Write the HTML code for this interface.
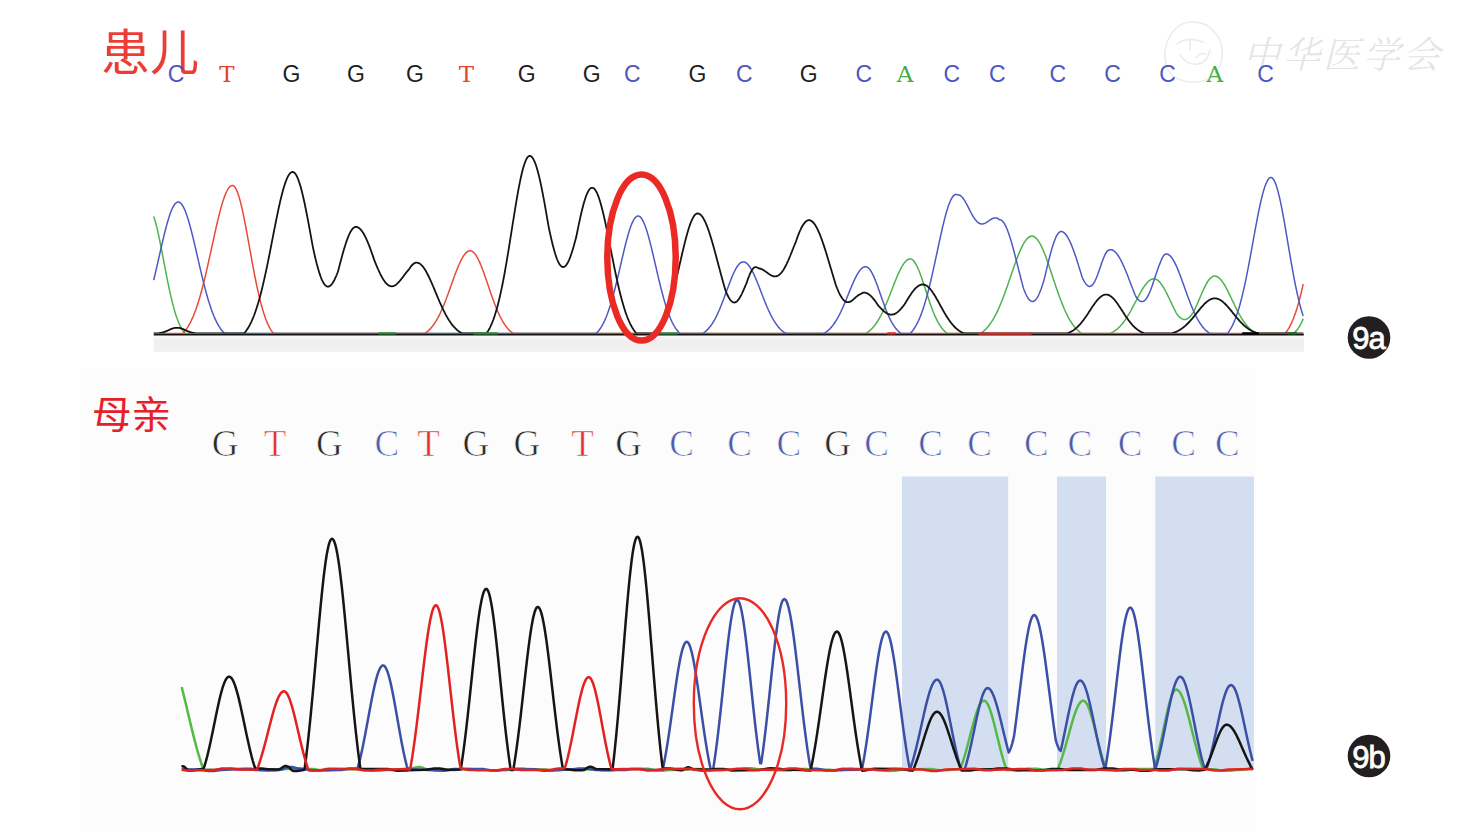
<!DOCTYPE html>
<html><head><meta charset="utf-8"><style>
html,body{margin:0;padding:0;background:#fff;}
body{width:1482px;height:832px;overflow:hidden;position:relative;}
svg{position:absolute;left:0;top:0;display:block;}
.tl{font-family:"Liberation Sans",sans-serif;font-size:23px;text-anchor:middle;}
.ts{font-family:"DejaVu Serif",serif;font-size:23px;text-anchor:middle;}
.bl{font-family:"Liberation Serif",serif;font-size:37px;text-anchor:middle;stroke:#fcfcfc;stroke-width:0.7px;}
.cjk{font-family:"Liberation Sans","Noto Sans CJK SC",sans-serif;}
.wm{font-family:"Liberation Serif","Noto Serif CJK SC",serif;}
.badge{font-family:"Liberation Sans",sans-serif;font-size:31px;fill:#fff;stroke:#fff;stroke-width:0.8px;text-anchor:middle;letter-spacing:-1px;}
</style></head><body>
<svg width="1482" height="832" viewBox="0 0 1482 832">
<defs>
<linearGradient id="band" x1="0" y1="0" x2="0" y2="1">
<stop offset="0" stop-color="#f7f7f7"/><stop offset="0.3" stop-color="#efefef"/><stop offset="1" stop-color="#f2f2f2"/>
</linearGradient>
<clipPath id="tclip"><rect x="0" y="0" width="1482" height="333.3"/></clipPath>
</defs>
<rect x="0" y="0" width="1482" height="832" fill="#ffffff"/>
<!-- lower panel background -->
<rect x="80.5" y="368" width="1175" height="464" fill="#fcfcfc"/>
<!-- top gray band -->
<rect x="153.7" y="336.5" width="1150.3" height="15.5" fill="url(#band)"/>

<!-- watermark -->
<g fill="none" stroke="#ececec" stroke-width="1.6" stroke-linecap="round">
<path d="M1170 36 q8 -14 22 -14 q16 0 24 12 q8 10 6 24 q-2 16 -16 22 q-14 5 -28 -1 q-12 -6 -13 -20 q-1 -13 5 -23z"/>
<path d="M1177 44 q10 -8 26 -2 M1180 54 q6 12 18 10 q10 -2 12 -14 M1190 40 v10 M1196 58 q4 -6 10 -4"/>
</g>
<text x="1246" y="68" font-family="'Liberation Serif','Noto Serif CJK SC',serif" font-weight="300" font-size="37" fill="#e4e4e4" letter-spacing="3" transform="skewX(-14) translate(14,0)">中华医学会</text>

<!-- top labels -->
<text x="101" y="70" class="cjk" font-size="49" fill="#eb3d35">患儿</text>
<text x="176.0" y="81.5" class="tl" fill="#4d57c2">C</text>
<text x="227.0" y="81.5" class="ts" fill="#e2452a">T</text>
<text x="291.5" y="81.5" class="tl" fill="#1e1e1e">G</text>
<text x="356.0" y="81.5" class="tl" fill="#1e1e1e">G</text>
<text x="415.0" y="81.5" class="tl" fill="#1e1e1e">G</text>
<text x="466.3" y="81.5" class="ts" fill="#e2452a">T</text>
<text x="526.6" y="81.5" class="tl" fill="#1e1e1e">G</text>
<text x="591.6" y="81.5" class="tl" fill="#1e1e1e">G</text>
<text x="632.3" y="81.5" class="tl" fill="#4d57c2">C</text>
<text x="697.5" y="81.5" class="tl" fill="#1e1e1e">G</text>
<text x="744.3" y="81.5" class="tl" fill="#4d57c2">C</text>
<text x="808.7" y="81.5" class="tl" fill="#1e1e1e">G</text>
<text x="863.8" y="81.5" class="tl" fill="#4d57c2">C</text>
<text x="905.0" y="81.5" class="ts" fill="#3fae45">A</text>
<text x="951.9" y="81.5" class="tl" fill="#4d57c2">C</text>
<text x="997.2" y="81.5" class="tl" fill="#4d57c2">C</text>
<text x="1057.8" y="81.5" class="tl" fill="#4d57c2">C</text>
<text x="1112.5" y="81.5" class="tl" fill="#4d57c2">C</text>
<text x="1167.5" y="81.5" class="tl" fill="#4d57c2">C</text>
<text x="1214.7" y="81.5" class="ts" fill="#3fae45">A</text>
<text x="1265.6" y="81.5" class="tl" fill="#4d57c2">C</text>

<!-- top traces -->
<g fill="none" stroke-width="1.5" stroke-linejoin="round" clip-path="url(#tclip)">
<path d="M153.7,216.6 154.2,218.0 154.7,219.6 155.2,221.2 155.7,223.0 156.2,224.9 156.7,226.9 157.2,228.9 157.7,231.1 158.2,233.3 158.7,235.6 159.2,237.9 159.7,240.4 160.2,242.8 160.7,245.3 161.2,247.9 161.7,250.4 162.2,253.0 162.7,255.7 163.2,258.3 163.7,260.9 164.2,263.6 164.7,266.2 165.2,268.8 165.7,271.4 166.2,274.0 166.7,276.6 167.2,279.1 167.7,281.6 168.2,284.0 168.7,286.4 169.2,288.8 169.7,291.1 170.2,293.4 170.7,295.6 171.2,297.7 171.7,299.8 172.2,301.9 172.7,303.9 173.2,305.8 173.7,307.6 174.2,309.4 174.7,311.1 175.2,312.8 175.7,314.4 176.2,315.9 176.7,317.4 177.2,318.8 177.7,320.1 178.2,321.4 178.7,322.6 179.2,323.8 179.7,324.9 180.2,326.0 180.7,326.9 181.2,327.9 181.7,328.8 182.2,329.6 182.7,330.4 183.2,331.2 183.7,331.9 184.2,332.5 184.7,333.1 185.2,333.5 865.7,333.5 866.2,333.2 866.7,332.9 867.2,332.5 867.7,332.2 868.2,331.8 868.7,331.5 869.2,331.1 869.7,330.6 870.2,330.2 870.7,329.8 871.2,329.3 871.7,328.8 872.2,328.3 872.7,327.7 873.2,327.2 873.7,326.6 874.2,325.9 874.7,325.3 875.2,324.7 875.7,324.0 876.2,323.3 876.7,322.5 877.2,321.8 877.7,321.0 878.2,320.2 878.7,319.3 879.2,318.5 879.7,317.6 880.2,316.7 880.7,315.7 881.2,314.8 881.7,313.8 882.2,312.8 882.7,311.7 883.2,310.7 883.7,309.6 884.2,308.5 884.7,307.3 885.2,306.2 885.7,305.0 886.2,303.9 886.7,302.7 887.2,301.4 887.7,300.2 888.2,299.0 888.7,297.7 889.2,296.5 889.7,295.2 890.2,293.9 890.7,292.6 891.2,291.3 891.7,290.0 892.2,288.8 892.7,287.5 893.2,286.2 893.7,284.9 894.2,283.6 894.7,282.4 895.2,281.1 895.7,279.9 896.2,278.7 896.7,277.5 897.2,276.3 897.7,275.1 898.2,274.0 898.7,272.9 899.2,271.8 899.7,270.8 900.2,269.8 900.7,268.8 901.2,267.8 901.7,266.9 902.2,266.1 902.7,265.3 903.2,264.5 903.7,263.7 904.2,263.1 904.7,262.4 905.2,261.8 905.7,261.3 906.2,260.8 906.7,260.4 907.2,260.0 907.7,259.7 908.2,259.5 908.7,259.3 909.2,259.1 909.7,259.0 910.7,259.0 911.2,259.1 911.7,259.3 912.2,259.6 912.7,260.0 913.2,260.4 913.7,260.9 914.2,261.5 914.7,262.2 915.2,263.0 915.7,263.8 916.2,264.7 916.7,265.6 917.2,266.6 917.7,267.7 918.2,268.8 918.7,270.0 919.2,271.2 919.7,272.5 920.2,273.8 920.7,275.2 921.2,276.6 921.7,278.0 922.2,279.5 922.7,280.9 923.2,282.4 923.7,284.0 924.2,285.5 924.7,287.0 925.2,288.6 925.7,290.1 926.2,291.7 926.7,293.2 927.2,294.8 927.7,296.3 928.2,297.8 928.7,299.3 929.2,300.8 929.7,302.3 930.2,303.7 930.7,305.1 931.2,306.5 931.7,307.9 932.2,309.2 932.7,310.5 933.2,311.8 933.7,313.0 934.2,314.2 934.7,315.4 935.2,316.6 935.7,317.7 936.2,318.7 936.7,319.7 937.2,320.7 937.7,321.7 938.2,322.6 938.7,323.5 939.2,324.3 939.7,325.1 940.2,325.9 940.7,326.6 941.2,327.3 941.7,328.0 942.2,328.6 942.7,329.2 943.2,329.8 943.7,330.3 944.2,330.9 944.7,331.3 945.2,331.8 945.7,332.2 946.2,332.6 946.7,333.0 947.2,333.4 947.7,333.5 980.2,333.5 980.7,333.3 981.2,333.0 981.7,332.6 982.2,332.3 982.7,331.9 983.2,331.5 983.7,331.1 984.2,330.6 984.7,330.2 985.2,329.7 985.7,329.2 986.2,328.7 986.7,328.2 987.2,327.6 987.7,327.0 988.2,326.4 988.7,325.8 989.2,325.2 989.7,324.5 990.2,323.8 990.7,323.1 991.2,322.4 991.7,321.6 992.2,320.8 992.7,320.0 993.2,319.2 993.7,318.3 994.2,317.4 994.7,316.5 995.2,315.6 995.7,314.6 996.2,313.7 996.7,312.6 997.2,311.6 997.7,310.6 998.2,309.5 998.7,308.4 999.2,307.2 999.7,306.1 1000.2,304.9 1000.7,303.7 1001.2,302.5 1001.7,301.2 1002.2,300.0 1002.7,298.7 1003.2,297.4 1003.7,296.1 1004.2,294.7 1004.7,293.4 1005.2,292.0 1005.7,290.6 1006.2,289.2 1006.7,287.8 1007.2,286.4 1007.7,285.0 1008.2,283.5 1008.7,282.1 1009.2,280.6 1009.7,279.2 1010.2,277.7 1010.7,276.3 1011.2,274.8 1011.7,273.3 1012.2,271.9 1012.7,270.4 1013.2,269.0 1013.7,267.6 1014.2,266.1 1014.7,264.7 1015.2,263.3 1015.7,262.0 1016.2,260.6 1016.7,259.2 1017.2,257.9 1017.7,256.6 1018.2,255.4 1018.7,254.1 1019.2,252.9 1019.7,251.7 1020.2,250.6 1020.7,249.4 1021.2,248.3 1021.7,247.3 1022.2,246.3 1022.7,245.3 1023.2,244.4 1023.7,243.5 1024.2,242.7 1024.7,241.9 1025.2,241.1 1025.7,240.4 1026.2,239.8 1026.7,239.2 1027.2,238.6 1027.7,238.1 1028.2,237.7 1028.7,237.3 1029.2,237.0 1029.7,236.7 1030.2,236.5 1030.7,236.3 1031.2,236.2 1031.7,236.1 1032.2,236.1 1032.7,236.2 1033.2,236.3 1033.7,236.5 1034.2,236.7 1034.7,237.0 1035.2,237.4 1035.7,237.8 1036.2,238.2 1036.7,238.8 1037.2,239.4 1037.7,240.0 1038.2,240.7 1038.7,241.4 1039.2,242.2 1039.7,243.1 1040.2,244.0 1040.7,244.9 1041.2,245.9 1041.7,246.9 1042.2,248.0 1042.7,249.1 1043.2,250.3 1043.7,251.5 1044.2,252.7 1044.7,254.0 1045.2,255.2 1045.7,256.6 1046.2,257.9 1046.7,259.3 1047.2,260.7 1047.7,262.1 1048.2,263.5 1048.7,265.0 1049.2,266.4 1049.7,267.9 1050.2,269.4 1050.7,270.9 1051.2,272.4 1051.7,273.9 1052.2,275.4 1052.7,276.9 1053.2,278.4 1053.7,279.9 1054.2,281.5 1054.7,283.0 1055.2,284.4 1055.7,285.9 1056.2,287.4 1056.7,288.9 1057.2,290.3 1057.7,291.8 1058.2,293.2 1058.7,294.6 1059.2,296.0 1059.7,297.4 1060.2,298.7 1060.7,300.0 1061.2,301.3 1061.7,302.6 1062.2,303.9 1062.7,305.1 1063.2,306.3 1063.7,307.5 1064.2,308.7 1064.7,309.8 1065.2,311.0 1065.7,312.0 1066.2,313.1 1066.7,314.1 1067.2,315.1 1067.7,316.1 1068.2,317.1 1068.7,318.0 1069.2,318.9 1069.7,319.8 1070.2,320.6 1070.7,321.4 1071.2,322.2 1071.7,323.0 1072.2,323.7 1072.7,324.4 1073.2,325.1 1073.7,325.8 1074.2,326.4 1074.7,327.1 1075.2,327.7 1075.7,328.2 1076.2,328.8 1076.7,329.3 1077.2,329.8 1077.7,330.3 1078.2,330.8 1078.7,331.2 1079.2,331.6 1079.7,332.1 1080.2,332.4 1080.7,332.8 1081.2,333.2 1081.7,333.5 1109.7,333.5 1110.2,333.4 1110.7,333.2 1111.2,332.9 1111.7,332.7 1112.2,332.4 1112.7,332.1 1113.2,331.9 1113.7,331.5 1114.2,331.2 1114.7,330.9 1115.2,330.6 1115.7,330.2 1116.2,329.8 1116.7,329.4 1117.2,329.0 1117.7,328.6 1118.2,328.1 1118.7,327.7 1119.2,327.2 1119.7,326.7 1120.2,326.1 1120.7,325.6 1121.2,325.0 1121.7,324.5 1122.2,323.9 1122.7,323.2 1123.2,322.6 1123.7,321.9 1124.2,321.3 1124.7,320.6 1125.2,319.9 1125.7,319.1 1126.2,318.4 1126.7,317.6 1127.2,316.8 1127.7,316.0 1128.2,315.2 1128.7,314.4 1129.2,313.5 1129.7,312.6 1130.2,311.8 1130.7,310.9 1131.2,310.0 1131.7,309.0 1132.2,308.1 1132.7,307.2 1133.2,306.2 1133.7,305.3 1134.2,304.3 1134.7,303.4 1135.2,302.4 1135.7,301.5 1136.2,300.5 1136.7,299.6 1137.2,298.6 1137.7,297.6 1138.2,296.7 1138.7,295.8 1139.2,294.8 1139.7,293.9 1140.2,293.0 1140.7,292.1 1141.2,291.2 1141.7,290.4 1142.2,289.6 1142.7,288.7 1143.2,287.9 1143.7,287.2 1144.2,286.4 1144.7,285.7 1145.2,285.0 1145.7,284.4 1146.2,283.7 1146.7,283.1 1147.2,282.6 1147.7,282.0 1148.2,281.6 1148.7,281.1 1149.2,280.7 1149.7,280.3 1150.2,280.0 1150.7,279.7 1151.2,279.4 1151.7,279.2 1152.2,279.0 1152.7,278.9 1153.2,278.8 1154.2,278.8 1154.7,278.8 1155.2,278.9 1155.7,279.1 1156.2,279.3 1156.7,279.6 1157.2,279.9 1157.7,280.2 1158.2,280.6 1158.7,281.1 1159.2,281.6 1159.7,282.1 1160.2,282.7 1160.7,283.3 1161.2,284.0 1161.7,284.7 1162.2,285.4 1162.7,286.2 1163.2,287.0 1163.7,287.8 1164.2,288.7 1164.7,289.6 1165.2,290.5 1165.7,291.5 1166.2,292.4 1166.7,293.4 1167.2,294.4 1167.7,295.4 1168.2,296.4 1168.7,297.4 1169.2,298.5 1169.7,299.5 1170.2,300.6 1170.7,301.6 1171.2,302.7 1171.7,303.7 1172.2,304.8 1172.7,305.8 1173.2,306.8 1173.7,307.8 1174.2,308.9 1174.7,309.9 1175.2,310.8 1175.7,311.8 1176.2,312.8 1176.7,313.7 1177.2,314.5 1177.7,315.1 1178.2,315.7 1178.7,316.2 1179.2,316.7 1179.7,317.2 1180.2,317.6 1180.7,318.0 1181.2,318.4 1181.7,318.7 1182.2,318.9 1182.7,319.1 1183.2,319.3 1183.7,319.4 1184.2,319.5 1185.2,319.4 1185.7,319.4 1186.2,319.2 1186.7,319.0 1187.2,318.8 1187.7,318.5 1188.2,318.2 1188.7,317.8 1189.2,317.4 1189.7,316.9 1190.2,316.4 1190.7,315.8 1191.2,315.2 1191.7,314.6 1192.2,313.9 1192.7,313.2 1193.2,312.4 1193.7,311.6 1194.2,310.8 1194.7,309.7 1195.2,308.6 1195.7,307.5 1196.2,306.3 1196.7,305.2 1197.2,304.0 1197.7,302.9 1198.2,301.7 1198.7,300.5 1199.2,299.4 1199.7,298.2 1200.2,297.0 1200.7,295.8 1201.2,294.7 1201.7,293.5 1202.2,292.4 1202.7,291.3 1203.2,290.2 1203.7,289.1 1204.2,288.1 1204.7,287.1 1205.2,286.1 1205.7,285.1 1206.2,284.2 1206.7,283.3 1207.2,282.5 1207.7,281.7 1208.2,280.9 1208.7,280.2 1209.2,279.6 1209.7,279.0 1210.2,278.4 1210.7,277.9 1211.2,277.5 1211.7,277.1 1212.2,276.8 1212.7,276.5 1213.2,276.3 1213.7,276.1 1214.2,276.1 1215.2,276.1 1215.7,276.1 1216.2,276.3 1216.7,276.5 1217.2,276.7 1217.7,277.0 1218.2,277.3 1218.7,277.7 1219.2,278.1 1219.7,278.5 1220.2,279.0 1220.7,279.6 1221.2,280.2 1221.7,280.8 1222.2,281.4 1222.7,282.1 1223.2,282.9 1223.7,283.7 1224.2,284.5 1224.7,285.3 1225.2,286.1 1225.7,287.0 1226.2,287.9 1226.7,288.9 1227.2,289.8 1227.7,290.8 1228.2,291.8 1228.7,292.8 1229.2,293.8 1229.7,294.8 1230.2,295.9 1230.7,296.9 1231.2,298.0 1231.7,299.0 1232.2,300.1 1232.7,301.1 1233.2,302.2 1233.7,303.2 1234.2,304.2 1234.7,305.3 1235.2,306.3 1235.7,307.3 1236.2,308.3 1236.7,309.3 1237.2,310.3 1237.7,311.3 1238.2,312.2 1238.7,313.2 1239.2,314.1 1239.7,315.0 1240.2,315.9 1240.7,316.7 1241.2,317.6 1241.7,318.4 1242.2,319.2 1242.7,320.0 1243.2,320.7 1243.7,321.5 1244.2,322.2 1244.7,322.9 1245.2,323.6 1245.7,324.2 1246.2,324.8 1246.7,325.4 1247.2,326.0 1247.7,326.6 1248.2,327.1 1248.7,327.7 1249.2,328.2 1249.7,328.6 1250.2,329.1 1250.7,329.5 1251.2,330.0 1251.7,330.4 1252.2,330.7 1252.7,331.1 1253.2,331.4 1253.7,331.8 1254.2,332.1 1254.7,332.4 1255.2,332.7 1255.7,332.9 1256.2,333.2 1256.7,333.4 1257.2,333.5 1293.2,333.5 1293.7,333.2 1294.2,332.8 1294.7,332.4 1295.2,331.9 1295.7,331.4 1296.2,330.9 1296.7,330.3 1297.2,329.7 1297.7,329.1 1298.2,328.4 1298.7,327.6 1299.2,326.8 1299.7,326.0 1300.2,325.1 1300.7,324.2 1301.2,323.2 1301.7,322.2 1302.2,321.1 1302.7,319.9 1303.2,318.8" stroke="#4cb34f"/>
<path d="M153.7,333.5 182.7,333.5 183.2,333.0 183.7,332.5 184.2,331.9 184.7,331.3 185.2,330.7 185.7,330.0 186.2,329.4 186.7,328.6 187.2,327.9 187.7,327.1 188.2,326.3 188.7,325.5 189.2,324.6 189.7,323.7 190.2,322.8 190.7,321.8 191.2,320.8 191.7,319.7 192.2,318.7 192.7,317.5 193.2,316.4 193.7,315.2 194.2,313.9 194.7,312.6 195.2,311.3 195.7,309.9 196.2,308.5 196.7,307.1 197.2,305.6 197.7,304.1 198.2,302.5 198.7,300.9 199.2,299.2 199.7,297.6 200.2,295.8 200.7,294.1 201.2,292.2 201.7,290.4 202.2,288.5 202.7,286.6 203.2,284.6 203.7,282.7 204.2,280.6 204.7,278.6 205.2,276.5 205.7,274.4 206.2,272.3 206.7,270.1 207.2,267.9 207.7,265.7 208.2,263.5 208.7,261.2 209.2,259.0 209.7,256.7 210.2,254.4 210.7,252.1 211.2,249.8 211.7,247.5 212.2,245.2 212.7,242.9 213.2,240.6 213.7,238.4 214.2,236.1 214.7,233.8 215.2,231.6 215.7,229.4 216.2,227.2 216.7,225.0 217.2,222.8 217.7,220.7 218.2,218.6 218.7,216.6 219.2,214.6 219.7,212.6 220.2,210.7 220.7,208.9 221.2,207.1 221.7,205.3 222.2,203.6 222.7,202.0 223.2,200.4 223.7,198.9 224.2,197.5 224.7,196.1 225.2,194.9 225.7,193.6 226.2,192.5 226.7,191.5 227.2,190.5 227.7,189.6 228.2,188.8 228.7,188.1 229.2,187.4 229.7,186.9 230.2,186.4 230.7,186.1 231.2,185.8 231.7,185.6 232.2,185.5 232.7,185.6 233.2,185.7 233.7,186.0 234.2,186.4 234.7,186.9 235.2,187.6 235.7,188.4 236.2,189.3 236.7,190.4 237.2,191.6 237.7,192.8 238.2,194.3 238.7,195.8 239.2,197.4 239.7,199.2 240.2,201.0 240.7,202.9 241.2,205.0 241.7,207.1 242.2,209.3 242.7,211.5 243.2,213.9 243.7,216.3 244.2,218.8 244.7,221.3 245.2,223.9 245.7,226.5 246.2,229.2 246.7,231.9 247.2,234.6 247.7,237.3 248.2,240.1 248.7,242.9 249.2,245.7 249.7,248.4 250.2,251.2 250.7,254.0 251.2,256.8 251.7,259.5 252.2,262.3 252.7,265.0 253.2,267.6 253.7,270.3 254.2,272.9 254.7,275.5 255.2,278.0 255.7,280.5 256.2,283.0 256.7,285.4 257.2,287.7 257.7,290.0 258.2,292.2 258.7,294.4 259.2,296.6 259.7,298.6 260.2,300.6 260.7,302.6 261.2,304.5 261.7,306.3 262.2,308.1 262.7,309.8 263.2,311.5 263.7,313.1 264.2,314.6 264.7,316.1 265.2,317.5 265.7,318.9 266.2,320.2 266.7,321.4 267.2,322.6 267.7,323.8 268.2,324.8 268.7,325.9 269.2,326.9 269.7,327.8 270.2,328.7 270.7,329.6 271.2,330.4 271.7,331.1 272.2,331.9 272.7,332.5 273.2,333.2 273.7,333.5 424.2,333.5 424.7,333.4 425.2,333.1 425.7,332.8 426.2,332.4 426.7,332.1 427.2,331.7 427.7,331.3 428.2,330.8 428.7,330.4 429.2,329.9 429.7,329.4 430.2,328.9 430.7,328.4 431.2,327.8 431.7,327.2 432.2,326.6 432.7,326.0 433.2,325.3 433.7,324.6 434.2,323.9 434.7,323.2 435.2,322.4 435.7,321.6 436.2,320.8 436.7,320.0 437.2,319.1 437.7,318.2 438.2,317.3 438.7,316.3 439.2,315.3 439.7,314.3 440.2,313.3 440.7,312.2 441.2,311.1 441.7,310.0 442.2,308.9 442.7,307.7 443.2,306.5 443.7,305.3 444.2,304.1 444.7,302.8 445.2,301.6 445.7,300.3 446.2,299.0 446.7,297.6 447.2,296.3 447.7,294.9 448.2,293.6 448.7,292.2 449.2,290.8 449.7,289.4 450.2,288.0 450.7,286.6 451.2,285.2 451.7,283.8 452.2,282.4 452.7,281.0 453.2,279.6 453.7,278.2 454.2,276.8 454.7,275.5 455.2,274.1 455.7,272.8 456.2,271.5 456.7,270.2 457.2,268.9 457.7,267.7 458.2,266.5 458.7,265.3 459.2,264.2 459.7,263.0 460.2,262.0 460.7,260.9 461.2,259.9 461.7,259.0 462.2,258.1 462.7,257.2 463.2,256.4 463.7,255.6 464.2,254.9 464.7,254.3 465.2,253.6 465.7,253.1 466.2,252.6 466.7,252.2 467.2,251.8 467.7,251.5 468.2,251.2 468.7,251.0 469.2,250.9 469.7,250.8 470.7,250.8 471.2,250.9 471.7,251.1 472.2,251.4 472.7,251.7 473.2,252.1 473.7,252.5 474.2,253.0 474.7,253.6 475.2,254.2 475.7,254.9 476.2,255.7 476.7,256.5 477.2,257.4 477.7,258.3 478.2,259.2 478.7,260.3 479.2,261.3 479.7,262.4 480.2,263.6 480.7,264.8 481.2,266.0 481.7,267.2 482.2,268.5 482.7,269.9 483.2,271.2 483.7,272.6 484.2,274.0 484.7,275.4 485.2,276.8 485.7,278.3 486.2,279.7 486.7,281.2 487.2,282.6 487.7,284.1 488.2,285.6 488.7,287.1 489.2,288.5 489.7,290.0 490.2,291.5 490.7,292.9 491.2,294.4 491.7,295.8 492.2,297.2 492.7,298.6 493.2,300.0 493.7,301.3 494.2,302.7 494.7,304.0 495.2,305.3 495.7,306.6 496.2,307.8 496.7,309.0 497.2,310.2 497.7,311.4 498.2,312.5 498.7,313.6 499.2,314.7 499.7,315.7 500.2,316.8 500.7,317.7 501.2,318.7 501.7,319.6 502.2,320.5 502.7,321.4 503.2,322.2 503.7,323.0 504.2,323.8 504.7,324.6 505.2,325.3 505.7,326.0 506.2,326.6 506.7,327.3 507.2,327.9 507.7,328.5 508.2,329.0 508.7,329.6 509.2,330.1 509.7,330.6 510.2,331.0 510.7,331.5 511.2,331.9 511.7,332.3 512.2,332.7 512.7,333.0 513.2,333.4 513.7,333.5 1284.7,333.5 1285.2,333.3 1285.7,332.7 1286.2,332.1 1286.7,331.4 1287.2,330.7 1287.7,330.0 1288.2,329.2 1288.7,328.4 1289.2,327.5 1289.7,326.6 1290.2,325.7 1290.7,324.7 1291.2,323.6 1291.7,322.6 1292.2,321.4 1292.7,320.3 1293.2,319.1 1293.7,317.8 1294.2,316.5 1294.7,315.1 1295.2,313.7 1295.7,312.3 1296.2,310.7 1296.7,309.2 1297.2,307.6 1297.7,305.9 1298.2,304.2 1298.7,302.4 1299.2,300.6 1299.7,298.7 1300.2,296.8 1300.7,294.8 1301.2,292.8 1301.7,290.7 1302.2,288.6 1302.7,286.4 1303.2,284.2" stroke="#ea4a35"/>
<path d="M153.7,280.1 154.2,278.0 154.7,275.9 155.2,273.8 155.7,271.7 156.2,269.5 156.7,267.3 157.2,265.2 157.7,263.0 158.2,260.8 158.7,258.6 159.2,256.3 159.7,254.1 160.2,251.9 160.7,249.7 161.2,247.5 161.7,245.4 162.2,243.2 162.7,241.1 163.2,238.9 163.7,236.8 164.2,234.8 164.7,232.8 165.2,230.8 165.7,228.8 166.2,226.9 166.7,225.1 167.2,223.3 167.7,221.5 168.2,219.8 168.7,218.2 169.2,216.6 169.7,215.1 170.2,213.7 170.7,212.3 171.2,211.0 171.7,209.8 172.2,208.7 172.7,207.7 173.2,206.7 173.7,205.8 174.2,205.0 174.7,204.3 175.2,203.7 175.7,203.2 176.2,202.8 176.7,202.5 177.2,202.2 177.7,202.1 178.2,202.0 178.7,202.1 179.2,202.2 179.7,202.5 180.2,202.8 180.7,203.2 181.2,203.7 181.7,204.3 182.2,205.0 182.7,205.8 183.2,206.7 183.7,207.6 184.2,208.7 184.7,209.8 185.2,211.0 185.7,212.2 186.2,213.6 186.7,215.0 187.2,216.5 187.7,218.0 188.2,219.6 188.7,221.3 189.2,223.0 189.7,224.8 190.2,226.6 190.7,228.5 191.2,230.4 191.7,232.3 192.2,234.3 192.7,236.4 193.2,238.4 193.7,240.5 194.2,242.6 194.7,244.7 195.2,246.9 195.7,249.0 196.2,251.2 196.7,253.4 197.2,255.6 197.7,257.8 198.2,259.9 198.7,262.1 199.2,264.3 199.7,266.5 200.2,268.6 200.7,270.7 201.2,272.9 201.7,275.0 202.2,277.0 202.7,279.1 203.2,281.1 203.7,283.1 204.2,285.1 204.7,287.0 205.2,289.0 205.7,290.8 206.2,292.7 206.7,294.5 207.2,296.2 207.7,298.0 208.2,299.7 208.7,301.3 209.2,302.9 209.7,304.5 210.2,306.0 210.7,307.5 211.2,309.0 211.7,310.4 212.2,311.7 212.7,313.1 213.2,314.3 213.7,315.6 214.2,316.8 214.7,317.9 215.2,319.1 215.7,320.1 216.2,321.2 216.7,322.2 217.2,323.1 217.7,324.1 218.2,325.0 218.7,325.8 219.2,326.6 219.7,327.4 220.2,328.2 220.7,328.9 221.2,329.6 221.7,330.2 222.2,330.8 222.7,331.4 223.2,332.0 223.7,332.5 224.2,333.1 224.7,333.5 595.7,333.5 596.2,333.4 596.7,332.9 597.2,332.4 597.7,331.8 598.2,331.3 598.7,330.7 599.2,330.0 599.7,329.3 600.2,328.6 600.7,327.9 601.2,327.1 601.7,326.3 602.2,325.4 602.7,324.5 603.2,323.6 603.7,322.6 604.2,321.5 604.7,320.5 605.2,319.4 605.7,318.2 606.2,317.0 606.7,315.7 607.2,314.5 607.7,313.1 608.2,311.7 608.7,310.3 609.2,308.8 609.7,307.3 610.2,305.7 610.7,304.1 611.2,302.5 611.7,300.8 612.2,299.0 612.7,297.3 613.2,295.4 613.7,293.6 614.2,291.7 614.7,289.8 615.2,287.8 615.7,285.8 616.2,283.8 616.7,281.7 617.2,279.7 617.7,277.6 618.2,275.4 618.7,273.3 619.2,271.2 619.7,269.0 620.2,266.9 620.7,264.7 621.2,262.5 621.7,260.4 622.2,258.2 622.7,256.1 623.2,254.0 623.7,251.8 624.2,249.8 624.7,247.7 625.2,245.7 625.7,243.7 626.2,241.8 626.7,239.9 627.2,238.0 627.7,236.2 628.2,234.4 628.7,232.7 629.2,231.1 629.7,229.6 630.2,228.1 630.7,226.6 631.2,225.3 631.7,224.0 632.2,222.9 632.7,221.8 633.2,220.8 633.7,219.9 634.2,219.0 634.7,218.3 635.2,217.7 635.7,217.2 636.2,216.7 636.7,216.4 637.2,216.2 637.7,216.0 638.2,216.0 638.7,216.1 639.2,216.3 639.7,216.6 640.2,216.9 640.7,217.4 641.2,218.0 641.7,218.7 642.2,219.5 642.7,220.3 643.2,221.3 643.7,222.4 644.2,223.5 644.7,224.7 645.2,226.0 645.7,227.4 646.2,228.9 646.7,230.4 647.2,232.0 647.7,233.7 648.2,235.4 648.7,237.2 649.2,239.1 649.7,241.0 650.2,242.9 650.7,244.9 651.2,246.9 651.7,248.9 652.2,251.0 652.7,253.1 653.2,255.2 653.7,257.4 654.2,259.5 654.7,261.7 655.2,263.9 655.7,266.0 656.2,268.2 656.7,270.4 657.2,272.5 657.7,274.7 658.2,276.8 658.7,278.9 659.2,281.0 659.7,283.0 660.2,285.1 660.7,287.1 661.2,289.1 661.7,291.0 662.2,292.9 662.7,294.8 663.2,296.6 663.7,298.4 664.2,300.2 664.7,301.9 665.2,303.6 665.7,305.2 666.2,306.8 666.7,308.3 667.2,309.8 667.7,311.3 668.2,312.7 668.7,314.0 669.2,315.4 669.7,316.6 670.2,317.8 670.7,319.0 671.2,320.1 671.7,321.2 672.2,322.3 672.7,323.3 673.2,324.2 673.7,325.1 674.2,326.0 674.7,326.9 675.2,327.7 675.7,328.4 676.2,329.1 676.7,329.8 677.2,330.5 677.7,331.1 678.2,331.7 678.7,332.3 679.2,332.8 679.7,333.3 680.2,333.5 702.2,333.5 702.7,333.4 703.2,333.1 703.7,332.8 704.2,332.4 704.7,332.1 705.2,331.7 705.7,331.3 706.2,330.8 706.7,330.4 707.2,329.9 707.7,329.4 708.2,328.9 708.7,328.3 709.2,327.7 709.7,327.1 710.2,326.5 710.7,325.8 711.2,325.2 711.7,324.4 712.2,323.7 712.7,322.9 713.2,322.1 713.7,321.3 714.2,320.4 714.7,319.5 715.2,318.6 715.7,317.6 716.2,316.7 716.7,315.6 717.2,314.6 717.7,313.5 718.2,312.4 718.7,311.3 719.2,310.2 719.7,309.0 720.2,307.8 720.7,306.6 721.2,305.3 721.7,304.1 722.2,302.8 722.7,301.5 723.2,300.2 723.7,298.9 724.2,297.5 724.7,296.2 725.2,294.8 725.7,293.5 726.2,292.1 726.7,290.8 727.2,289.4 727.7,288.0 728.2,286.7 728.7,285.3 729.2,284.0 729.7,282.7 730.2,281.4 730.7,280.1 731.2,278.9 731.7,277.6 732.2,276.4 732.7,275.3 733.2,274.1 733.7,273.0 734.2,272.0 734.7,271.0 735.2,270.0 735.7,269.0 736.2,268.2 736.7,267.3 737.2,266.5 737.7,265.8 738.2,265.2 738.7,264.5 739.2,264.0 739.7,263.5 740.2,263.1 740.7,262.7 741.2,262.4 741.7,262.2 742.2,262.0 742.7,261.9 743.7,261.9 744.2,262.0 744.7,262.1 745.2,262.3 745.7,262.6 746.2,262.9 746.7,263.3 747.2,263.7 747.7,264.2 748.2,264.8 748.7,265.4 749.2,266.0 749.7,266.7 750.2,267.5 750.7,268.3 751.2,269.1 751.7,270.0 752.2,270.9 752.7,271.9 753.2,272.9 753.7,273.9 754.2,275.0 754.7,276.1 755.2,277.3 755.7,278.4 756.2,279.6 756.7,280.8 757.2,282.0 757.7,283.3 758.2,284.5 758.7,285.8 759.2,287.1 759.7,288.4 760.2,289.6 760.7,290.9 761.2,292.2 761.7,293.5 762.2,294.8 762.7,296.1 763.2,297.4 763.7,298.7 764.2,299.9 764.7,301.2 765.2,302.4 765.7,303.6 766.2,304.8 766.7,306.0 767.2,307.2 767.7,308.3 768.2,309.5 768.7,310.6 769.2,311.6 769.7,312.7 770.2,313.7 770.7,314.8 771.2,315.7 771.7,316.7 772.2,317.6 772.7,318.5 773.2,319.4 773.7,320.3 774.2,321.1 774.7,321.9 775.2,322.7 775.7,323.4 776.2,324.1 776.7,324.8 777.2,325.5 777.7,326.1 778.2,326.8 778.7,327.4 779.2,327.9 779.7,328.5 780.2,329.0 780.7,329.5 781.2,330.0 781.7,330.4 782.2,330.8 782.7,331.3 783.2,331.6 783.7,332.0 784.2,332.4 784.7,332.7 785.2,333.0 785.7,333.3 786.2,333.5 823.7,333.5 824.2,333.2 824.7,332.9 825.2,332.6 825.7,332.3 826.2,331.9 826.7,331.6 827.2,331.2 827.7,330.8 828.2,330.4 828.7,329.9 829.2,329.5 829.7,329.0 830.2,328.5 830.7,327.9 831.2,327.4 831.7,326.8 832.2,326.2 832.7,325.6 833.2,324.9 833.7,324.2 834.2,323.5 834.7,322.8 835.2,322.0 835.7,321.3 836.2,320.4 836.7,319.6 837.2,318.7 837.7,317.9 838.2,316.9 838.7,316.0 839.2,315.1 839.7,314.1 840.2,313.1 840.7,312.0 841.2,311.0 841.7,309.9 842.2,308.8 842.7,307.7 843.2,306.6 843.7,305.4 844.2,304.2 844.7,303.1 845.2,301.9 845.7,300.7 846.2,299.5 846.7,298.3 847.2,297.0 847.7,295.8 848.2,294.6 848.7,293.3 849.2,292.1 849.7,290.9 850.2,289.7 850.7,288.5 851.2,287.3 851.7,286.1 852.2,284.9 852.7,283.8 853.2,282.6 853.7,281.5 854.2,280.4 854.7,279.4 855.2,278.3 855.7,277.3 856.2,276.4 856.7,275.4 857.2,274.5 857.7,273.7 858.2,272.9 858.7,272.1 859.2,271.4 859.7,270.7 860.2,270.1 860.7,269.5 861.2,269.0 861.7,268.5 862.2,268.1 862.7,267.7 863.2,267.4 863.7,267.2 864.2,267.0 864.7,266.8 865.2,266.7 866.2,266.8 866.7,266.9 867.2,267.1 867.7,267.4 868.2,267.8 868.7,268.2 869.2,268.7 869.7,269.3 870.2,270.0 870.7,270.7 871.2,271.5 871.7,272.4 872.2,273.3 872.7,274.3 873.2,275.3 873.7,276.4 874.2,277.5 874.7,278.7 875.2,279.9 875.7,281.2 876.2,282.5 876.7,283.8 877.2,285.2 877.7,286.6 878.2,288.0 878.7,289.4 879.2,290.8 879.7,292.2 880.2,293.7 880.7,295.1 881.2,296.6 881.7,298.0 882.2,299.4 882.7,300.8 883.2,302.2 883.7,303.6 884.2,305.0 884.7,306.4 885.2,307.7 885.7,309.0 886.2,310.3 886.7,311.5 887.2,312.7 887.7,313.9 888.2,315.1 888.7,316.2 889.2,317.3 889.7,318.3 890.2,319.4 890.7,320.3 891.2,321.3 891.7,322.2 892.2,323.1 892.7,323.9 893.2,324.7 893.7,325.5 894.2,326.2 894.7,327.0 895.2,327.6 895.7,328.3 896.2,328.9 896.7,329.4 897.2,330.0 897.7,330.5 898.2,331.0 898.7,331.4 899.2,331.9 899.7,332.3 900.2,332.7 900.7,333.0 901.2,333.4 901.7,333.5 910.2,333.5 910.7,333.0 911.2,332.4 911.7,331.9 912.2,331.3 912.7,330.6 913.2,329.9 913.7,329.2 914.2,328.5 914.7,327.7 915.2,326.9 915.7,326.1 916.2,325.2 916.7,324.3 917.2,323.3 917.7,322.3 918.2,321.3 918.7,320.2 919.2,319.1 919.7,317.9 920.2,316.7 920.7,315.4 921.2,314.1 921.7,312.8 922.2,311.4 922.7,310.0 923.2,308.5 923.7,307.0 924.2,305.4 924.7,303.8 925.2,302.1 925.7,300.4 926.2,298.7 926.7,296.9 927.2,295.0 927.7,293.2 928.2,291.3 928.7,289.3 929.2,287.3 929.7,285.3 930.2,283.2 930.7,281.1 931.2,279.0 931.7,276.8 932.2,274.6 932.7,272.4 933.2,270.2 933.7,267.9 934.2,265.6 934.7,263.3 935.2,261.0 935.7,258.7 936.2,256.4 936.7,254.0 937.2,251.7 937.7,249.3 938.2,247.0 938.7,244.7 939.2,242.3 939.7,240.0 940.2,237.8 940.7,235.5 941.2,233.3 941.7,231.0 942.2,228.9 942.7,226.7 943.2,224.6 943.7,222.6 944.2,220.5 944.7,218.6 945.2,216.7 945.7,214.8 946.2,213.0 946.7,211.3 947.2,209.7 947.7,208.1 948.2,206.6 948.7,205.1 949.2,203.8 949.7,202.5 950.2,201.3 950.7,200.2 951.2,199.2 951.7,198.3 952.2,197.5 952.7,196.7 953.2,196.1 953.7,195.6 954.2,195.1 954.7,194.8 955.2,194.5 955.7,194.4 956.2,194.4 956.7,194.4 957.2,194.6 957.7,194.9 958.2,194.9 958.7,194.9 959.2,195.0 959.7,195.2 960.2,195.4 960.7,195.8 961.2,196.2 961.7,196.7 962.2,197.2 962.7,197.8 963.2,198.5 963.7,199.2 964.2,199.9 964.7,200.7 965.2,201.6 965.7,202.5 966.2,203.4 966.7,204.3 967.2,205.2 967.7,206.2 968.2,207.2 968.7,208.2 969.2,209.1 969.7,210.1 970.2,211.1 970.7,212.0 971.2,213.0 971.7,213.9 972.2,214.8 972.7,215.7 973.2,216.5 973.7,217.3 974.2,218.1 974.7,218.8 975.2,219.5 975.7,220.1 976.2,220.7 976.7,221.3 977.2,221.8 977.7,222.2 978.2,222.6 978.7,223.0 979.2,223.3 979.7,223.5 980.2,223.7 980.7,223.8 981.2,223.9 982.7,223.9 983.2,223.8 983.7,223.7 984.2,223.6 984.7,223.4 985.2,223.1 985.7,222.9 986.2,222.6 986.7,222.3 987.2,222.0 987.7,221.6 988.2,221.3 988.7,220.9 989.2,220.6 989.7,220.2 990.2,219.9 990.7,219.6 991.2,219.3 991.7,219.0 992.2,218.7 992.7,218.5 993.2,218.3 993.7,218.1 994.2,218.0 994.7,217.9 995.7,217.9 996.2,217.9 996.7,218.0 997.2,218.2 997.7,218.5 998.2,218.8 998.7,219.1 999.2,219.6 999.7,219.7 1000.2,219.7 1000.7,219.9 1001.2,220.1 1001.7,220.5 1002.2,220.9 1002.7,221.4 1003.2,222.0 1003.7,222.6 1004.2,223.4 1004.7,224.2 1005.2,225.1 1005.7,226.1 1006.2,227.2 1006.7,228.3 1007.2,229.5 1007.7,230.8 1008.2,232.2 1008.7,233.6 1009.2,235.0 1009.7,236.5 1010.2,238.1 1010.7,239.7 1011.2,241.4 1011.7,243.1 1012.2,244.9 1012.7,246.7 1013.2,248.5 1013.7,250.3 1014.2,252.2 1014.7,254.1 1015.2,256.1 1015.7,258.0 1016.2,260.0 1016.7,261.9 1017.2,263.9 1017.7,265.9 1018.2,267.9 1018.7,269.9 1019.2,271.9 1019.7,273.8 1020.2,275.8 1020.7,277.7 1021.2,279.7 1021.7,281.6 1022.2,283.5 1022.7,285.4 1023.2,287.2 1023.7,288.8 1024.2,290.2 1024.7,291.4 1025.2,292.6 1025.7,293.7 1026.2,294.8 1026.7,295.8 1027.2,296.7 1027.7,297.6 1028.2,298.3 1028.7,299.0 1029.2,299.6 1029.7,300.1 1030.2,300.6 1030.7,300.9 1031.2,301.2 1031.7,301.4 1032.2,301.5 1032.7,301.5 1033.2,301.4 1033.7,301.2 1034.2,301.0 1034.7,300.6 1035.2,300.2 1035.7,299.7 1036.2,299.1 1036.7,298.4 1037.2,297.6 1037.7,296.7 1038.2,295.8 1038.7,294.8 1039.2,293.7 1039.7,292.6 1040.2,291.3 1040.7,290.0 1041.2,288.7 1041.7,287.3 1042.2,285.8 1042.7,284.3 1043.2,282.7 1043.7,281.1 1044.2,279.2 1044.7,277.1 1045.2,275.1 1045.7,273.0 1046.2,270.9 1046.7,268.8 1047.2,266.7 1047.7,264.6 1048.2,262.6 1048.7,260.6 1049.2,258.6 1049.7,256.7 1050.2,254.8 1050.7,252.9 1051.2,251.1 1051.7,249.3 1052.2,247.6 1052.7,246.0 1053.2,244.4 1053.7,242.9 1054.2,241.5 1054.7,240.2 1055.2,238.9 1055.7,237.7 1056.2,236.7 1056.7,235.7 1057.2,234.8 1057.7,234.0 1058.2,233.4 1058.7,232.8 1059.2,232.3 1059.7,232.0 1060.2,231.7 1060.7,231.6 1061.2,231.6 1061.7,231.6 1062.2,231.7 1062.7,231.9 1063.2,232.2 1063.7,232.5 1064.2,232.9 1064.7,233.3 1065.2,233.8 1065.7,234.4 1066.2,235.0 1066.7,235.7 1067.2,236.5 1067.7,237.3 1068.2,238.1 1068.7,239.1 1069.2,240.0 1069.7,241.1 1070.2,242.1 1070.7,243.2 1071.2,244.4 1071.7,245.6 1072.2,246.9 1072.7,248.2 1073.2,249.5 1073.7,250.9 1074.2,252.3 1074.7,253.7 1075.2,255.1 1075.7,256.6 1076.2,258.1 1076.7,259.7 1077.2,261.2 1077.7,262.8 1078.2,264.4 1078.7,265.9 1079.2,267.6 1079.7,269.2 1080.2,270.8 1080.7,272.4 1081.2,274.0 1081.7,275.7 1082.2,277.2 1082.7,278.3 1083.2,279.3 1083.7,280.3 1084.2,281.2 1084.7,282.1 1085.2,282.9 1085.7,283.6 1086.2,284.3 1086.7,284.8 1087.2,285.3 1087.7,285.7 1088.2,286.0 1088.7,286.2 1089.2,286.4 1089.7,286.4 1090.2,286.3 1090.7,286.2 1091.2,285.9 1091.7,285.6 1092.2,285.1 1092.7,284.6 1093.2,283.9 1093.7,283.2 1094.2,282.4 1094.7,281.4 1095.2,280.5 1095.7,279.4 1096.2,278.3 1096.7,277.0 1097.2,275.8 1097.7,274.5 1098.2,273.1 1098.7,271.7 1099.2,270.3 1099.7,268.8 1100.2,267.4 1100.7,265.9 1101.2,264.5 1101.7,263.0 1102.2,261.6 1102.7,260.2 1103.2,258.9 1103.7,257.7 1104.2,256.5 1104.7,255.3 1105.2,254.3 1105.7,253.3 1106.2,252.5 1106.7,251.8 1107.2,251.1 1107.7,250.6 1108.2,250.3 1108.7,250.0 1109.2,249.9 1109.7,249.9 1110.2,249.7 1110.7,249.7 1111.2,249.7 1111.7,249.8 1112.2,250.0 1112.7,250.2 1113.2,250.4 1113.7,250.8 1114.2,251.1 1114.7,251.5 1115.2,252.0 1115.7,252.5 1116.2,253.0 1116.7,253.6 1117.2,254.3 1117.7,255.0 1118.2,255.7 1118.7,256.5 1119.2,257.3 1119.7,258.1 1120.2,259.0 1120.7,259.9 1121.2,260.9 1121.7,261.9 1122.2,262.9 1122.7,264.0 1123.2,265.1 1123.7,266.2 1124.2,267.3 1124.7,268.5 1125.2,269.6 1125.7,270.8 1126.2,272.1 1126.7,273.3 1127.2,274.5 1127.7,275.8 1128.2,277.1 1128.7,278.4 1129.2,279.7 1129.7,280.9 1130.2,282.2 1130.7,283.5 1131.2,284.9 1131.7,286.2 1132.2,287.5 1132.7,288.8 1133.2,290.0 1133.7,291.3 1134.2,292.6 1134.7,293.9 1135.2,295.2 1135.7,296.3 1136.2,297.0 1136.7,297.8 1137.2,298.4 1137.7,299.0 1138.2,299.6 1138.7,300.1 1139.2,300.5 1139.7,300.9 1140.2,301.2 1140.7,301.4 1141.2,301.6 1141.7,301.6 1142.2,301.6 1142.7,301.6 1143.2,301.4 1143.7,301.2 1144.2,300.8 1144.7,300.4 1145.2,300.0 1145.7,299.4 1146.2,298.8 1146.7,298.0 1147.2,297.3 1147.7,296.4 1148.2,295.4 1148.7,294.4 1149.2,293.3 1149.7,292.2 1150.2,291.0 1150.7,289.7 1151.2,288.4 1151.7,287.1 1152.2,285.7 1152.7,284.2 1153.2,282.7 1153.7,281.3 1154.2,279.7 1154.7,278.2 1155.2,276.7 1155.7,275.2 1156.2,273.7 1156.7,272.2 1157.2,270.7 1157.7,269.3 1158.2,267.9 1158.7,266.6 1159.2,265.3 1159.7,264.1 1160.2,262.9 1160.7,261.5 1161.2,260.3 1161.7,259.1 1162.2,258.1 1162.7,257.1 1163.2,256.3 1163.7,255.6 1164.2,255.0 1164.7,254.6 1165.2,254.2 1165.7,254.0 1166.2,254.0 1166.7,254.0 1167.2,254.1 1167.7,254.2 1168.2,254.5 1168.7,254.7 1169.2,255.1 1169.7,255.5 1170.2,255.9 1170.7,256.5 1171.2,257.1 1171.7,257.7 1172.2,258.4 1172.7,259.1 1173.2,259.9 1173.7,260.8 1174.2,261.7 1174.7,262.6 1175.2,263.6 1175.7,264.7 1176.2,265.7 1176.7,266.8 1177.2,268.0 1177.7,269.2 1178.2,270.4 1178.7,271.6 1179.2,272.9 1179.7,274.2 1180.2,275.5 1180.7,276.8 1181.2,278.2 1181.7,279.6 1182.2,280.9 1182.7,282.3 1183.2,283.7 1183.7,285.1 1184.2,286.5 1184.7,287.9 1185.2,289.3 1185.7,290.7 1186.2,292.1 1186.7,293.5 1187.2,294.9 1187.7,296.3 1188.2,297.6 1188.7,299.0 1189.2,300.3 1189.7,301.6 1190.2,302.9 1190.7,304.2 1191.2,305.4 1191.7,306.6 1192.2,307.8 1192.7,309.0 1193.2,310.2 1193.7,311.3 1194.2,312.4 1194.7,313.5 1195.2,314.5 1195.7,315.6 1196.2,316.5 1196.7,317.5 1197.2,318.5 1197.7,319.4 1198.2,320.2 1198.7,321.1 1199.2,321.9 1199.7,322.7 1200.2,323.5 1200.7,324.2 1201.2,324.9 1201.7,325.6 1202.2,326.3 1202.7,326.9 1203.2,327.5 1203.7,328.1 1204.2,328.7 1204.7,329.2 1205.2,329.7 1205.7,330.2 1206.2,330.7 1206.7,331.1 1207.2,331.5 1207.7,331.9 1208.2,332.3 1208.7,332.7 1209.2,333.0 1209.7,333.3 1210.2,333.5 1227.2,333.5 1227.7,333.1 1228.2,332.5 1228.7,331.8 1229.2,331.1 1229.7,330.3 1230.2,329.5 1230.7,328.7 1231.2,327.8 1231.7,326.9 1232.2,326.0 1232.7,324.9 1233.2,323.9 1233.7,322.8 1234.2,321.6 1234.7,320.4 1235.2,319.2 1235.7,317.9 1236.2,316.5 1236.7,315.1 1237.2,313.6 1237.7,312.1 1238.2,310.6 1238.7,308.9 1239.2,307.2 1239.7,305.5 1240.2,303.7 1240.7,301.8 1241.2,299.9 1241.7,298.0 1242.2,295.9 1242.7,293.9 1243.2,291.7 1243.7,289.5 1244.2,287.3 1244.7,285.0 1245.2,282.7 1245.7,280.3 1246.2,277.9 1246.7,275.4 1247.2,272.9 1247.7,270.4 1248.2,267.8 1248.7,265.2 1249.2,262.5 1249.7,259.8 1250.2,257.1 1250.7,254.4 1251.2,251.7 1251.7,248.9 1252.2,246.2 1252.7,243.4 1253.2,240.6 1253.7,237.9 1254.2,235.1 1254.7,232.4 1255.2,229.7 1255.7,226.9 1256.2,224.3 1256.7,221.6 1257.2,219.0 1257.7,216.4 1258.2,213.9 1258.7,211.4 1259.2,209.0 1259.7,206.6 1260.2,204.3 1260.7,202.1 1261.2,199.9 1261.7,197.8 1262.2,195.8 1262.7,193.9 1263.2,192.0 1263.7,190.3 1264.2,188.7 1264.7,187.1 1265.2,185.7 1265.7,184.4 1266.2,183.2 1266.7,182.1 1267.2,181.1 1267.7,180.2 1268.2,179.5 1268.7,178.8 1269.2,178.3 1269.7,177.9 1270.2,177.7 1270.7,177.6 1271.2,177.6 1271.7,177.7 1272.2,178.0 1272.7,178.4 1273.2,179.0 1273.7,179.7 1274.2,180.6 1274.7,181.6 1275.2,182.7 1275.7,184.0 1276.2,185.3 1276.7,186.9 1277.2,188.5 1277.7,190.2 1278.2,192.1 1278.7,194.1 1279.2,196.2 1279.7,198.3 1280.2,200.6 1280.7,202.9 1281.2,205.4 1281.7,207.9 1282.2,210.5 1282.7,213.1 1283.2,215.8 1283.7,218.6 1284.2,221.4 1284.7,224.2 1285.2,227.1 1285.7,230.0 1286.2,233.0 1286.7,235.9 1287.2,238.9 1287.7,241.8 1288.2,244.8 1288.7,247.8 1289.2,250.7 1289.7,253.7 1290.2,256.6 1290.7,259.5 1291.2,262.4 1291.7,265.2 1292.2,268.0 1292.7,270.8 1293.2,273.5 1293.7,276.2 1294.2,278.8 1294.7,281.4 1295.2,283.9 1295.7,286.4 1296.2,288.8 1296.7,291.2 1297.2,293.5 1297.7,295.7 1298.2,297.9 1298.7,300.0 1299.2,302.1 1299.7,304.1 1300.2,306.0 1300.7,307.8 1301.2,309.6 1301.7,311.3 1302.2,313.0 1302.7,314.6 1303.2,316.1" stroke="#4d58c4"/>
<path d="M153.7,333.5 157.2,333.5 157.7,333.4 158.2,333.4 158.7,333.3 159.2,333.2 159.7,333.1 160.2,333.0 160.7,332.9 161.2,332.8 161.7,332.7 162.2,332.6 162.7,332.4 163.2,332.3 163.7,332.1 164.2,332.0 164.7,331.8 165.2,331.6 165.7,331.4 166.2,331.2 166.7,331.0 167.2,330.8 167.7,330.6 168.2,330.3 168.7,330.1 169.2,329.9 169.7,329.7 170.2,329.4 170.7,329.2 171.2,329.0 171.7,328.8 172.2,328.6 172.7,328.5 173.2,328.3 173.7,328.2 174.2,328.0 174.7,327.9 175.2,327.8 175.7,327.8 178.2,327.8 178.7,327.8 179.2,327.9 179.7,328.0 180.2,328.1 180.7,328.3 181.2,328.4 181.7,328.6 182.2,328.8 182.7,329.0 183.2,329.2 183.7,329.4 184.2,329.6 184.7,329.8 185.2,330.1 185.7,330.3 186.2,330.5 186.7,330.7 187.2,331.0 187.7,331.2 188.2,331.4 188.7,331.6 189.2,331.8 189.7,331.9 190.2,332.1 190.7,332.3 191.2,332.4 191.7,332.6 192.2,332.7 192.7,332.8 193.2,332.9 193.7,333.0 194.2,333.1 194.7,333.2 195.2,333.3 195.7,333.4 196.2,333.4 196.7,333.5 243.7,333.5 244.2,333.3 244.7,332.7 245.2,332.1 245.7,331.4 246.2,330.8 246.7,330.1 247.2,329.3 247.7,328.5 248.2,327.7 248.7,326.9 249.2,326.0 249.7,325.1 250.2,324.1 250.7,323.1 251.2,322.1 251.7,321.0 252.2,319.9 252.7,318.7 253.2,317.5 253.7,316.3 254.2,315.0 254.7,313.6 255.2,312.2 255.7,310.8 256.2,309.3 256.7,307.8 257.2,306.2 257.7,304.6 258.2,303.0 258.7,301.2 259.2,299.5 259.7,297.7 260.2,295.8 260.7,293.9 261.2,292.0 261.7,290.0 262.2,288.0 262.7,285.9 263.2,283.8 263.7,281.6 264.2,279.4 264.7,277.2 265.2,274.9 265.7,272.6 266.2,270.3 266.7,267.9 267.2,265.5 267.7,263.1 268.2,260.6 268.7,258.2 269.2,255.7 269.7,253.1 270.2,250.6 270.7,248.1 271.2,245.5 271.7,242.9 272.2,240.4 272.7,237.8 273.2,235.2 273.7,232.7 274.2,230.1 274.7,227.6 275.2,225.1 275.7,222.5 276.2,220.1 276.7,217.6 277.2,215.2 277.7,212.8 278.2,210.4 278.7,208.1 279.2,205.8 279.7,203.6 280.2,201.4 280.7,199.3 281.2,197.2 281.7,195.2 282.2,193.2 282.7,191.4 283.2,189.5 283.7,187.8 284.2,186.2 284.7,184.6 285.2,183.1 285.7,181.7 286.2,180.4 286.7,179.1 287.2,178.0 287.7,176.9 288.2,176.0 288.7,175.1 289.2,174.4 289.7,173.7 290.2,173.2 290.7,172.7 291.2,172.4 291.7,172.2 292.2,172.0 292.7,172.0 293.2,172.1 293.7,172.3 294.2,172.6 294.7,173.0 295.2,173.6 295.7,174.3 296.2,175.1 296.7,176.0 297.2,177.0 297.7,178.1 298.2,179.4 298.7,180.7 299.2,182.2 299.7,183.7 300.2,185.3 300.7,187.1 301.2,188.9 301.7,190.8 302.2,192.8 302.7,194.9 303.2,197.0 303.7,199.2 304.2,201.5 304.7,203.8 305.2,206.2 305.7,208.7 306.2,211.2 306.7,213.7 307.2,216.3 307.7,218.9 308.2,221.6 308.7,224.2 309.2,226.9 309.7,229.7 310.2,232.4 310.7,235.1 311.2,237.9 311.7,240.6 312.2,243.4 312.7,246.1 313.2,248.6 313.7,250.9 314.2,253.2 314.7,255.4 315.2,257.5 315.7,259.6 316.2,261.6 316.7,263.6 317.2,265.5 317.7,267.3 318.2,269.1 318.7,270.8 319.2,272.4 319.7,273.9 320.2,275.4 320.7,276.8 321.2,278.1 321.7,279.3 322.2,280.4 322.7,281.4 323.2,282.3 323.7,283.2 324.2,283.9 324.7,284.6 325.2,285.2 325.7,285.6 326.2,286.0 326.7,286.3 327.2,286.5 327.7,286.6 328.2,286.6 328.7,286.5 329.2,286.4 329.7,286.1 330.2,285.8 330.7,285.3 331.2,284.8 331.7,284.3 332.2,283.6 332.7,282.9 333.2,282.1 333.7,281.2 334.2,280.3 334.7,279.3 335.2,278.2 335.7,277.1 336.2,276.0 336.7,274.8 337.2,273.5 337.7,272.2 338.2,270.7 338.7,268.8 339.2,266.9 339.7,264.9 340.2,263.0 340.7,261.2 341.2,259.3 341.7,257.4 342.2,255.6 342.7,253.8 343.2,252.1 343.7,250.3 344.2,248.6 344.7,247.0 345.2,245.4 345.7,243.8 346.2,242.3 346.7,240.9 347.2,239.5 347.7,238.1 348.2,236.8 348.7,235.6 349.2,234.5 349.7,233.4 350.2,232.4 350.7,231.5 351.2,230.7 351.7,229.9 352.2,229.2 352.7,228.7 353.2,228.1 353.7,227.7 354.2,227.4 354.7,227.1 355.2,227.0 355.7,226.9 356.2,226.9 356.7,227.0 357.2,227.1 357.7,227.3 358.2,227.5 358.7,227.8 359.2,228.2 359.7,228.6 360.2,229.1 360.7,229.6 361.2,230.2 361.7,230.8 362.2,231.5 362.7,232.2 363.2,233.0 363.7,233.8 364.2,234.7 364.7,235.6 365.2,236.6 365.7,237.6 366.2,238.7 366.7,239.8 367.2,240.9 367.7,242.1 368.2,243.3 368.7,244.5 369.2,245.8 369.7,247.1 370.2,248.4 370.7,249.8 371.2,251.2 371.7,252.6 372.2,254.0 372.7,255.4 373.2,256.9 373.7,258.4 374.2,259.9 374.7,261.2 375.2,262.4 375.7,263.6 376.2,264.8 376.7,266.0 377.2,267.2 377.7,268.3 378.2,269.5 378.7,270.6 379.2,271.7 379.7,272.7 380.2,273.8 380.7,274.8 381.2,275.8 381.7,276.7 382.2,277.6 382.7,278.5 383.2,279.3 383.7,280.1 384.2,280.8 384.7,281.5 385.2,282.2 385.7,282.8 386.2,283.3 386.7,283.9 387.2,284.3 387.7,284.7 388.2,285.1 388.7,285.4 389.2,285.7 389.7,285.9 390.2,286.1 390.7,286.2 391.2,286.3 392.2,286.3 392.7,286.2 393.2,286.1 393.7,286.0 394.2,285.8 394.7,285.5 395.2,285.2 395.7,284.9 396.2,284.5 396.7,284.1 397.2,283.7 397.7,283.2 398.2,282.7 398.7,282.2 399.2,281.6 399.7,281.0 400.2,280.4 400.7,279.8 401.2,279.2 401.7,278.5 402.2,277.9 402.7,277.2 403.2,276.6 403.7,275.9 404.2,275.2 404.7,274.5 405.2,273.9 405.7,273.2 406.2,272.6 406.7,272.0 407.2,271.4 407.7,270.8 408.2,270.2 408.7,269.7 409.2,269.0 409.7,268.2 410.2,267.5 410.7,266.8 411.2,266.1 411.7,265.5 412.2,265.0 412.7,264.5 413.2,264.0 413.7,263.7 414.2,263.3 414.7,263.1 415.2,262.9 415.7,262.7 416.2,262.7 417.2,262.7 417.7,262.8 418.2,262.9 418.7,263.1 419.2,263.3 419.7,263.6 420.2,264.0 420.7,264.4 421.2,264.8 421.7,265.3 422.2,265.8 422.7,266.4 423.2,267.0 423.7,267.7 424.2,268.4 424.7,269.2 425.2,270.0 425.7,270.8 426.2,271.7 426.7,272.6 427.2,273.5 427.7,274.5 428.2,275.5 428.7,276.5 429.2,277.5 429.7,278.6 430.2,279.7 430.7,280.8 431.2,281.9 431.7,283.0 432.2,284.2 432.7,285.4 433.2,286.5 433.7,287.7 434.2,288.9 434.7,290.1 435.2,291.3 435.7,292.5 436.2,293.7 436.7,294.9 437.2,296.1 437.7,297.3 438.2,298.5 438.7,299.7 439.2,300.8 439.7,302.0 440.2,303.1 440.7,304.2 441.2,305.4 441.7,306.5 442.2,307.5 442.7,308.6 443.2,309.7 443.7,310.7 444.2,311.7 444.7,312.7 445.2,313.6 445.7,314.6 446.2,315.5 446.7,316.4 447.2,317.3 447.7,318.1 448.2,319.0 448.7,319.8 449.2,320.6 449.7,321.3 450.2,322.1 450.7,322.8 451.2,323.5 451.7,324.2 452.2,324.8 452.7,325.4 453.2,326.0 453.7,326.6 454.2,327.2 454.7,327.7 455.2,328.2 455.7,328.7 456.2,329.2 456.7,329.7 457.2,330.1 457.7,330.5 458.2,330.9 458.7,331.3 459.2,331.7 459.7,332.0 460.2,332.3 460.7,332.6 461.2,332.9 461.7,333.2 462.2,333.5 486.2,333.5 486.7,333.1 487.2,332.4 487.7,331.6 488.2,330.8 488.7,329.9 489.2,329.0 489.7,328.1 490.2,327.1 490.7,326.0 491.2,324.9 491.7,323.8 492.2,322.5 492.7,321.3 493.2,320.0 493.7,318.6 494.2,317.2 494.7,315.7 495.2,314.1 495.7,312.5 496.2,310.8 496.7,309.1 497.2,307.3 497.7,305.4 498.2,303.5 498.7,301.5 499.2,299.4 499.7,297.3 500.2,295.1 500.7,292.8 501.2,290.5 501.7,288.1 502.2,285.7 502.7,283.2 503.2,280.6 503.7,278.0 504.2,275.3 504.7,272.6 505.2,269.8 505.7,266.9 506.2,264.1 506.7,261.1 507.2,258.2 507.7,255.2 508.2,252.1 508.7,249.1 509.2,246.0 509.7,242.9 510.2,239.7 510.7,236.6 511.2,233.4 511.7,230.2 512.2,227.1 512.7,223.9 513.2,220.8 513.7,217.6 514.2,214.5 514.7,211.4 515.2,208.4 515.7,205.3 516.2,202.3 516.7,199.4 517.2,196.5 517.7,193.7 518.2,190.9 518.7,188.2 519.2,185.6 519.7,183.1 520.2,180.6 520.7,178.3 521.2,176.0 521.7,173.8 522.2,171.8 522.7,169.8 523.2,168.0 523.7,166.3 524.2,164.7 524.7,163.2 525.2,161.8 525.7,160.6 526.2,159.5 526.7,158.6 527.2,157.8 527.7,157.1 528.2,156.6 528.7,156.2 529.2,156.0 529.7,155.9 530.2,156.0 530.7,156.1 531.2,156.4 531.7,156.8 532.2,157.4 532.7,158.1 533.2,158.8 533.7,159.8 534.2,160.8 534.7,161.9 535.2,163.2 535.7,164.5 536.2,166.0 536.7,167.6 537.2,169.3 537.7,171.0 538.2,172.9 538.7,174.9 539.2,176.9 539.7,179.1 540.2,181.3 540.7,183.6 541.2,185.9 541.7,188.4 542.2,190.9 542.7,193.4 543.2,196.1 543.7,198.7 544.2,201.4 544.7,204.2 545.2,207.0 545.7,209.8 546.2,212.7 546.7,215.6 547.2,218.5 547.7,221.4 548.2,224.3 548.7,227.1 549.2,229.5 549.7,231.8 550.2,234.1 550.7,236.3 551.2,238.5 551.7,240.6 552.2,242.7 552.7,244.7 553.2,246.7 553.7,248.6 554.2,250.4 554.7,252.1 555.2,253.8 555.7,255.3 556.2,256.8 556.7,258.2 557.2,259.5 557.7,260.7 558.2,261.8 558.7,262.8 559.2,263.7 559.7,264.5 560.2,265.1 560.7,265.7 561.2,266.2 561.7,266.6 562.2,266.8 562.7,267.0 563.2,267.0 563.7,267.0 564.2,266.8 564.7,266.5 565.2,266.1 565.7,265.7 566.2,265.1 566.7,264.4 567.2,263.6 567.7,262.8 568.2,261.8 568.7,260.7 569.2,259.6 569.7,258.4 570.2,257.1 570.7,255.7 571.2,254.3 571.7,252.8 572.2,251.2 572.7,249.6 573.2,247.9 573.7,246.2 574.2,244.4 574.7,242.6 575.2,240.8 575.7,238.9 576.2,237.1 576.7,234.8 577.2,232.3 577.7,229.8 578.2,227.4 578.7,224.9 579.2,222.6 579.7,220.2 580.2,217.9 580.7,215.7 581.2,213.5 581.7,211.4 582.2,209.3 582.7,207.4 583.2,205.5 583.7,203.6 584.2,201.9 584.7,200.2 585.2,198.7 585.7,197.2 586.2,195.8 586.7,194.5 587.2,193.4 587.7,192.3 588.2,191.3 588.7,190.5 589.2,189.8 589.7,189.1 590.2,188.6 590.7,188.2 591.2,188.0 591.7,187.8 592.2,187.8 592.7,187.8 593.2,188.0 593.7,188.3 594.2,188.7 594.7,189.2 595.2,189.9 595.7,190.6 596.2,191.5 596.7,192.4 597.2,193.5 597.7,194.6 598.2,195.9 598.7,197.3 599.2,198.7 599.7,200.2 600.2,201.9 600.7,203.6 601.2,205.4 601.7,207.2 602.2,209.2 602.7,211.2 603.2,213.2 603.7,215.4 604.2,217.6 604.7,219.8 605.2,222.1 605.7,224.4 606.2,226.8 606.7,229.2 607.2,231.6 607.7,234.1 608.2,236.6 608.7,239.1 609.2,241.6 609.7,244.1 610.2,246.7 610.7,249.2 611.2,251.7 611.7,254.3 612.2,256.8 612.7,259.3 613.2,261.8 613.7,264.3 614.2,266.8 614.7,269.2 615.2,271.6 615.7,274.0 616.2,276.3 616.7,278.6 617.2,280.9 617.7,283.1 618.2,285.3 618.7,287.5 619.2,289.6 619.7,291.7 620.2,293.7 620.7,295.7 621.2,297.6 621.7,299.5 622.2,301.3 622.7,303.1 623.2,304.8 623.7,306.5 624.2,308.1 624.7,309.7 625.2,311.2 625.7,312.7 626.2,314.1 626.7,315.5 627.2,316.8 627.7,318.1 628.2,319.3 628.7,320.5 629.2,321.6 629.7,322.7 630.2,323.8 630.7,324.8 631.2,325.7 631.7,326.6 632.2,327.5 632.7,328.3 633.2,329.1 633.7,329.9 634.2,330.6 634.7,331.3 635.2,332.0 635.7,332.6 636.2,333.2 636.7,333.5 654.7,333.5 655.2,333.3 655.7,332.8 656.2,332.2 656.7,331.7 657.2,331.1 657.7,330.5 658.2,329.8 658.7,329.1 659.2,328.4 659.7,327.6 660.2,326.8 660.7,326.0 661.2,325.1 661.7,324.2 662.2,323.3 662.7,322.3 663.2,321.3 663.7,320.2 664.2,319.1 664.7,317.9 665.2,316.7 665.7,315.4 666.2,314.1 666.7,312.8 667.2,311.4 667.7,310.0 668.2,308.5 668.7,307.0 669.2,305.4 669.7,303.8 670.2,302.2 670.7,300.5 671.2,298.7 671.7,296.9 672.2,295.1 672.7,293.3 673.2,291.4 673.7,289.4 674.2,287.5 674.7,285.5 675.2,283.5 675.7,281.4 676.2,279.3 676.7,277.2 677.2,275.1 677.7,273.0 678.2,270.8 678.7,268.7 679.2,266.5 679.7,264.3 680.2,262.2 680.7,260.0 681.2,257.8 681.7,255.7 682.2,253.5 682.7,251.4 683.2,249.3 683.7,247.2 684.2,245.2 684.7,243.1 685.2,241.1 685.7,239.2 686.2,237.3 686.7,235.5 687.2,233.6 687.7,231.9 688.2,230.2 688.7,228.6 689.2,227.0 689.7,225.6 690.2,224.1 690.7,222.8 691.2,221.5 691.7,220.4 692.2,219.3 692.7,218.3 693.2,217.4 693.7,216.5 694.2,215.8 694.7,215.2 695.2,214.7 695.7,214.2 696.2,213.9 696.7,213.6 697.2,213.5 697.7,213.5 698.2,213.5 698.7,213.7 699.2,213.9 699.7,214.1 700.2,214.5 700.7,214.9 701.2,215.4 701.7,216.0 702.2,216.6 702.7,217.3 703.2,218.1 703.7,219.0 704.2,219.9 704.7,220.9 705.2,221.9 705.7,223.0 706.2,224.2 706.7,225.4 707.2,226.7 707.7,228.0 708.2,229.4 708.7,230.8 709.2,232.3 709.7,233.8 710.2,235.4 710.7,237.0 711.2,238.6 711.7,240.3 712.2,242.0 712.7,243.8 713.2,245.5 713.7,247.3 714.2,249.1 714.7,250.9 715.2,252.8 715.7,254.6 716.2,256.5 716.7,258.4 717.2,260.2 717.7,262.1 718.2,264.0 718.7,265.9 719.2,267.8 719.7,269.6 720.2,271.5 720.7,273.4 721.2,275.2 721.7,277.1 722.2,278.9 722.7,280.7 723.2,282.5 723.7,284.2 724.2,286.0 724.7,287.7 725.2,289.4 725.7,290.9 726.2,292.1 726.7,293.3 727.2,294.5 727.7,295.5 728.2,296.5 728.7,297.4 729.2,298.3 729.7,299.1 730.2,299.8 730.7,300.4 731.2,300.9 731.7,301.4 732.2,301.8 732.7,302.1 733.2,302.3 733.7,302.4 734.2,302.5 734.7,302.5 735.2,302.3 735.7,302.1 736.2,301.9 736.7,301.5 737.2,301.1 737.7,300.5 738.2,300.0 738.7,299.3 739.2,298.6 739.7,297.8 740.2,296.9 740.7,296.0 741.2,295.1 741.7,294.1 742.2,293.0 742.7,291.9 743.2,290.8 743.7,289.7 744.2,288.5 744.7,287.4 745.2,286.2 745.7,285.0 746.2,283.9 746.7,282.7 747.2,281.3 747.7,279.8 748.2,278.4 748.7,277.0 749.2,275.8 749.7,274.5 750.2,273.4 750.7,272.3 751.2,271.4 751.7,270.5 752.2,269.7 752.7,269.0 753.2,268.4 753.7,268.0 754.2,267.6 754.7,267.3 755.2,267.2 756.2,267.2 756.7,267.3 757.2,267.5 757.7,267.7 758.2,268.0 758.7,268.4 759.2,268.5 759.7,268.5 760.2,268.6 760.7,268.8 761.2,268.9 761.7,269.2 762.2,269.4 762.7,269.6 763.2,269.9 763.7,270.2 764.2,270.6 764.7,270.9 765.2,271.2 765.7,271.6 766.2,272.0 766.7,272.3 767.2,272.7 767.7,273.1 768.2,273.4 768.7,273.8 769.2,274.1 769.7,274.5 770.2,274.8 770.7,275.1 771.2,275.3 771.7,275.6 772.2,275.8 772.7,276.0 773.2,276.1 773.7,276.3 774.2,276.3 775.7,276.4 776.2,276.3 776.7,276.1 777.2,276.0 777.7,275.8 778.2,275.5 778.7,275.2 779.2,274.8 779.7,274.4 780.2,273.9 780.7,273.4 781.2,272.9 781.7,272.3 782.2,271.6 782.7,270.9 783.2,270.2 783.7,269.4 784.2,268.5 784.7,267.7 785.2,266.7 785.7,265.8 786.2,264.8 786.7,263.8 787.2,262.7 787.7,261.6 788.2,260.5 788.7,259.3 789.2,258.2 789.7,257.0 790.2,255.8 790.7,254.5 791.2,253.3 791.7,252.1 792.2,250.8 792.7,249.5 793.2,248.3 793.7,247.0 794.2,245.8 794.7,244.5 795.2,243.3 795.7,242.1 796.2,240.7 796.7,239.3 797.2,237.9 797.7,236.5 798.2,235.2 798.7,233.9 799.2,232.7 799.7,231.5 800.2,230.3 800.7,229.3 801.2,228.2 801.7,227.2 802.2,226.3 802.7,225.5 803.2,224.7 803.7,223.9 804.2,223.3 804.7,222.7 805.2,222.1 805.7,221.6 806.2,221.2 806.7,220.9 807.2,220.6 807.7,220.4 808.2,220.3 808.7,220.2 809.2,220.2 809.7,220.2 810.2,220.4 810.7,220.6 811.2,220.8 811.7,221.1 812.2,221.5 812.7,222.0 813.2,222.5 813.7,223.0 814.2,223.7 814.7,224.3 815.2,225.1 815.7,225.9 816.2,226.7 816.7,227.6 817.2,228.6 817.7,229.6 818.2,230.7 818.7,231.8 819.2,232.9 819.7,234.1 820.2,235.4 820.7,236.7 821.2,238.0 821.7,239.4 822.2,240.8 822.7,242.2 823.2,243.6 823.7,245.1 824.2,246.6 824.7,248.2 825.2,249.8 825.7,251.3 826.2,252.9 826.7,254.6 827.2,256.2 827.7,257.9 828.2,259.5 828.7,261.2 829.2,262.9 829.7,264.5 830.2,266.2 830.7,267.9 831.2,269.6 831.7,271.3 832.2,273.0 832.7,274.6 833.2,276.3 833.7,278.0 834.2,279.6 834.7,281.2 835.2,282.9 835.7,284.5 836.2,285.9 836.7,287.2 837.2,288.5 837.7,289.7 838.2,290.9 838.7,292.0 839.2,293.1 839.7,294.1 840.2,295.0 840.7,296.0 841.2,296.8 841.7,297.6 842.2,298.3 842.7,299.0 843.2,299.6 843.7,300.2 844.2,300.6 844.7,301.0 845.2,301.4 845.7,301.7 846.2,301.9 846.7,302.1 847.2,302.2 848.2,302.2 848.7,302.1 849.2,302.0 849.7,301.9 850.2,301.6 850.7,301.4 851.2,301.1 851.7,300.7 852.2,300.4 852.7,300.0 853.2,299.6 853.7,299.1 854.2,298.7 854.7,298.2 855.2,297.8 855.7,297.3 856.2,296.9 856.7,296.5 857.2,296.1 857.7,295.7 858.2,295.3 858.7,295.0 859.2,294.7 859.7,294.4 860.2,294.2 860.7,294.1 861.2,293.8 861.7,293.4 862.2,293.1 862.7,292.9 863.2,292.7 863.7,292.6 864.7,292.6 865.2,292.7 865.7,292.8 866.2,293.0 866.7,293.2 867.2,293.4 867.7,293.6 868.2,293.9 868.7,294.3 869.2,294.6 869.7,295.0 870.2,295.4 870.7,295.9 871.2,296.4 871.7,296.9 872.2,297.4 872.7,298.0 873.2,298.6 873.7,299.2 874.2,299.8 874.7,300.4 875.2,301.1 875.7,301.8 876.2,302.5 876.7,303.2 877.2,303.9 877.7,304.7 878.2,305.4 878.7,306.0 879.2,306.6 879.7,307.1 880.2,307.7 880.7,308.2 881.2,308.7 881.7,309.2 882.2,309.7 882.7,310.2 883.2,310.7 883.7,311.1 884.2,311.5 884.7,311.9 885.2,312.3 885.7,312.7 886.2,313.0 886.7,313.3 887.2,313.6 887.7,313.8 888.2,314.0 888.7,314.2 889.2,314.4 889.7,314.5 890.2,314.6 890.7,314.6 892.2,314.6 892.7,314.5 893.2,314.4 893.7,314.3 894.2,314.1 894.7,313.9 895.2,313.7 895.7,313.4 896.2,313.1 896.7,312.8 897.2,312.4 897.7,312.0 898.2,311.6 898.7,311.1 899.2,310.7 899.7,310.2 900.2,309.6 900.7,309.1 901.2,308.5 901.7,307.9 902.2,307.3 902.7,306.7 903.2,306.1 903.7,305.4 904.2,304.8 904.7,304.1 905.2,303.3 905.7,302.5 906.2,301.6 906.7,300.8 907.2,300.0 907.7,299.1 908.2,298.3 908.7,297.5 909.2,296.7 909.7,295.9 910.2,295.2 910.7,294.4 911.2,293.7 911.7,293.0 912.2,292.3 912.7,291.6 913.2,291.0 913.7,290.3 914.2,289.7 914.7,289.2 915.2,288.6 915.7,288.1 916.2,287.6 916.7,287.2 917.2,286.8 917.7,286.4 918.2,286.0 918.7,285.7 919.2,285.4 919.7,285.2 920.2,284.9 920.7,284.8 921.2,284.6 921.7,284.5 922.2,284.5 923.2,284.5 923.7,284.5 924.2,284.6 924.7,284.8 925.2,284.9 925.7,285.2 926.2,285.5 926.7,285.8 927.2,286.1 927.7,286.5 928.2,286.9 928.7,287.4 929.2,287.9 929.7,288.5 930.2,289.0 930.7,289.6 931.2,290.3 931.7,290.9 932.2,291.6 932.7,292.4 933.2,293.1 933.7,293.9 934.2,294.7 934.7,295.5 935.2,296.3 935.7,297.1 936.2,298.0 936.7,298.9 937.2,299.7 937.7,300.6 938.2,301.5 938.7,302.4 939.2,303.4 939.7,304.3 940.2,305.2 940.7,306.1 941.2,307.0 941.7,307.9 942.2,308.8 942.7,309.7 943.2,310.6 943.7,311.5 944.2,312.3 944.7,313.2 945.2,314.0 945.7,314.9 946.2,315.7 946.7,316.5 947.2,317.3 947.7,318.1 948.2,318.8 948.7,319.6 949.2,320.3 949.7,321.0 950.2,321.7 950.7,322.3 951.2,323.0 951.7,323.6 952.2,324.2 952.7,324.8 953.2,325.4 953.7,325.9 954.2,326.5 954.7,327.0 955.2,327.5 955.7,328.0 956.2,328.4 956.7,328.8 957.2,329.3 957.7,329.7 958.2,330.1 958.7,330.4 959.2,330.8 959.7,331.1 960.2,331.4 960.7,331.7 961.2,332.0 961.7,332.3 962.2,332.5 962.7,332.8 963.2,333.0 963.7,333.2 964.2,333.5 1066.7,333.5 1067.2,333.4 1067.7,333.2 1068.2,333.0 1068.7,332.8 1069.2,332.6 1069.7,332.3 1070.2,332.1 1070.7,331.8 1071.2,331.6 1071.7,331.3 1072.2,331.0 1072.7,330.7 1073.2,330.4 1073.7,330.0 1074.2,329.7 1074.7,329.3 1075.2,328.9 1075.7,328.5 1076.2,328.1 1076.7,327.6 1077.2,327.2 1077.7,326.7 1078.2,326.2 1078.7,325.7 1079.2,325.2 1079.7,324.6 1080.2,324.1 1080.7,323.5 1081.2,322.9 1081.7,322.3 1082.2,321.6 1082.7,321.0 1083.2,320.4 1083.7,319.7 1084.2,319.0 1084.7,318.3 1085.2,317.6 1085.7,316.9 1086.2,316.2 1086.7,315.4 1087.2,314.7 1087.7,313.9 1088.2,313.2 1088.7,312.4 1089.2,311.6 1089.7,310.9 1090.2,310.1 1090.7,309.4 1091.2,308.6 1091.7,307.8 1092.2,307.1 1092.7,306.3 1093.2,305.6 1093.7,304.9 1094.2,304.2 1094.7,303.5 1095.2,302.8 1095.7,302.1 1096.2,301.5 1096.7,300.8 1097.2,300.2 1097.7,299.7 1098.2,299.1 1098.7,298.6 1099.2,298.1 1099.7,297.6 1100.2,297.2 1100.7,296.7 1101.2,296.4 1101.7,296.0 1102.2,295.7 1102.7,295.4 1103.2,295.2 1103.7,295.0 1104.2,294.8 1104.7,294.7 1105.2,294.6 1105.7,294.6 1106.7,294.6 1107.2,294.6 1107.7,294.7 1108.2,294.9 1108.7,295.1 1109.2,295.3 1109.7,295.6 1110.2,295.9 1110.7,296.2 1111.2,296.6 1111.7,297.0 1112.2,297.4 1112.7,297.9 1113.2,298.4 1113.7,298.9 1114.2,299.4 1114.7,300.0 1115.2,300.6 1115.7,301.3 1116.2,301.9 1116.7,302.6 1117.2,303.3 1117.7,304.0 1118.2,304.7 1118.7,305.4 1119.2,306.2 1119.7,306.9 1120.2,307.7 1120.7,308.5 1121.2,309.2 1121.7,310.0 1122.2,310.8 1122.7,311.6 1123.2,312.3 1123.7,313.1 1124.2,313.9 1124.7,314.7 1125.2,315.4 1125.7,316.2 1126.2,316.9 1126.7,317.6 1127.2,318.3 1127.7,319.0 1128.2,319.7 1128.7,320.4 1129.2,321.1 1129.7,321.7 1130.2,322.4 1130.7,323.0 1131.2,323.6 1131.7,324.2 1132.2,324.7 1132.7,325.3 1133.2,325.8 1133.7,326.3 1134.2,326.8 1134.7,327.3 1135.2,327.8 1135.7,328.2 1136.2,328.6 1136.7,329.0 1137.2,329.4 1137.7,329.8 1138.2,330.2 1138.7,330.5 1139.2,330.8 1139.7,331.1 1140.2,331.4 1140.7,331.7 1141.2,332.0 1141.7,332.2 1142.2,332.5 1142.7,332.7 1143.2,332.9 1143.7,333.1 1144.2,333.3 1144.7,333.5 1171.2,333.5 1171.7,333.4 1172.2,333.3 1172.7,333.1 1173.2,332.9 1173.7,332.8 1174.2,332.6 1174.7,332.4 1175.2,332.2 1175.7,332.0 1176.2,331.8 1176.7,331.6 1177.2,331.3 1177.7,331.1 1178.2,330.8 1178.7,330.5 1179.2,330.2 1179.7,329.9 1180.2,329.6 1180.7,329.3 1181.2,329.0 1181.7,328.6 1182.2,328.3 1182.7,327.9 1183.2,327.5 1183.7,327.1 1184.2,326.7 1184.7,326.3 1185.2,325.9 1185.7,325.4 1186.2,325.0 1186.7,324.5 1187.2,324.0 1187.7,323.5 1188.2,323.0 1188.7,322.5 1189.2,322.0 1189.7,321.4 1190.2,320.9 1190.7,320.3 1191.2,319.7 1191.7,319.2 1192.2,318.6 1192.7,318.0 1193.2,317.4 1193.7,316.8 1194.2,316.2 1194.7,315.5 1195.2,314.9 1195.7,314.3 1196.2,313.7 1196.7,313.0 1197.2,312.4 1197.7,311.8 1198.2,311.2 1198.7,310.6 1199.2,309.9 1199.7,309.3 1200.2,308.7 1200.7,308.1 1201.2,307.5 1201.7,307.0 1202.2,306.4 1202.7,305.8 1203.2,305.3 1203.7,304.7 1204.2,304.2 1204.7,303.7 1205.2,303.2 1205.7,302.8 1206.2,302.3 1206.7,301.9 1207.2,301.5 1207.7,301.1 1208.2,300.7 1208.7,300.4 1209.2,300.1 1209.7,299.8 1210.2,299.5 1210.7,299.3 1211.2,299.1 1211.7,298.9 1212.2,298.7 1212.7,298.6 1213.2,298.5 1213.7,298.4 1215.7,298.4 1216.2,298.5 1216.7,298.5 1217.2,298.7 1217.7,298.8 1218.2,299.0 1218.7,299.2 1219.2,299.4 1219.7,299.7 1220.2,300.0 1220.7,300.3 1221.2,300.6 1221.7,300.9 1222.2,301.3 1222.7,301.7 1223.2,302.1 1223.7,302.6 1224.2,303.0 1224.7,303.5 1225.2,304.0 1225.7,304.5 1226.2,305.0 1226.7,305.5 1227.2,306.1 1227.7,306.6 1228.2,307.2 1228.7,307.8 1229.2,308.4 1229.7,309.0 1230.2,309.6 1230.7,310.2 1231.2,310.8 1231.7,311.4 1232.2,312.0 1232.7,312.7 1233.2,313.3 1233.7,313.9 1234.2,314.5 1234.7,315.1 1235.2,315.8 1235.7,316.4 1236.2,317.0 1236.7,317.6 1237.2,318.2 1237.7,318.7 1238.2,319.3 1238.7,319.9 1239.2,320.5 1239.7,321.0 1240.2,321.6 1240.7,322.1 1241.2,322.6 1241.7,323.1 1242.2,323.6 1242.7,324.1 1243.2,324.6 1243.7,325.1 1244.2,325.5 1244.7,326.0 1245.2,326.4 1245.7,326.8 1246.2,327.2 1246.7,327.6 1247.2,328.0 1247.7,328.3 1248.2,328.7 1248.7,329.0 1249.2,329.4 1249.7,329.7 1250.2,330.0 1250.7,330.3 1251.2,330.6 1251.7,330.8 1252.2,331.1 1252.7,331.3 1253.2,331.6 1253.7,331.8 1254.2,332.0 1254.7,332.2 1255.2,332.4 1255.7,332.6 1256.2,332.8 1256.7,332.9 1257.2,333.1 1257.7,333.3 1258.2,333.4 1258.7,333.5 1303.2,333.5" stroke="#141414" stroke-width="1.8"/>
</g>
<line x1="153.7" y1="334.4" x2="1303.8" y2="334.4" stroke="#111" stroke-width="2"/>
<g stroke-width="2.2" stroke-linecap="round">
<line x1="979" y1="333.6" x2="1031" y2="333.6" stroke="#d8302a"/>
<line x1="888" y1="333.4" x2="895" y2="333.4" stroke="#d8302a"/>
<line x1="474" y1="333.4" x2="497" y2="333.4" stroke="#2f8a3a"/>
<line x1="660" y1="333.4" x2="677" y2="333.4" stroke="#2f8a3a"/>
<line x1="379" y1="333.4" x2="395" y2="333.4" stroke="#2f8a3a"/>
<line x1="1243" y1="333.4" x2="1258" y2="333.4" stroke="#000"/>
<line x1="1288" y1="333.4" x2="1296" y2="333.4" stroke="#1e6a2a"/>
</g>
<ellipse cx="641.5" cy="257.6" rx="34.2" ry="83" fill="none" stroke="#ea2a25" stroke-width="6.5"/>

<!-- badges -->
<circle cx="1369" cy="337.5" r="21.3" fill="#231f20"/>
<text x="1368.5" y="349" class="badge">9a</text>
<circle cx="1369" cy="756" r="21.3" fill="#231f20"/>
<text x="1368.5" y="767.8" class="badge">9b</text>

<!-- bottom labels -->
<text x="92" y="428" class="cjk" font-size="38" fill="#e4202a" textLength="79" lengthAdjust="spacingAndGlyphs">母亲</text>
<text x="225.0" y="456.0" class="bl" fill="#2a2a2a">G</text>
<text x="275.1" y="456.0" class="bl" fill="#e0302c">T</text>
<text x="329.3" y="456.0" class="bl" fill="#2a2a2a">G</text>
<text x="386.8" y="456.0" class="bl" fill="#4f5bab">C</text>
<text x="428.6" y="456.0" class="bl" fill="#e0302c">T</text>
<text x="475.8" y="456.0" class="bl" fill="#2a2a2a">G</text>
<text x="526.9" y="456.0" class="bl" fill="#2a2a2a">G</text>
<text x="582.5" y="456.0" class="bl" fill="#e0302c">T</text>
<text x="628.6" y="456.0" class="bl" fill="#2a2a2a">G</text>
<text x="681.6" y="456.0" class="bl" fill="#4f5bab">C</text>
<text x="739.7" y="456.0" class="bl" fill="#4f5bab">C</text>
<text x="788.8" y="456.0" class="bl" fill="#4f5bab">C</text>
<text x="837.5" y="456.0" class="bl" fill="#2a2a2a">G</text>
<text x="876.5" y="456.0" class="bl" fill="#4f5bab">C</text>
<text x="930.5" y="456.0" class="bl" fill="#4f5bab">C</text>
<text x="979.7" y="456.0" class="bl" fill="#4f5bab">C</text>
<text x="1036.3" y="456.0" class="bl" fill="#4f5bab">C</text>
<text x="1079.8" y="456.0" class="bl" fill="#4f5bab">C</text>
<text x="1130.0" y="456.0" class="bl" fill="#4f5bab">C</text>
<text x="1183.7" y="456.0" class="bl" fill="#4f5bab">C</text>
<text x="1227.3" y="456.0" class="bl" fill="#4f5bab">C</text>

<!-- blue highlight rects -->
<g fill="#d3dff0">
<rect x="902" y="476.5" width="106.2" height="292.5"/>
<rect x="1057" y="476.5" width="49" height="292.5"/>
<rect x="1155.3" y="476.5" width="98.6" height="292.5"/>
</g>

<!-- bottom traces -->
<g fill="none" stroke-width="2.5" stroke-linejoin="round">
<path d="M181.7,687.0 182.2,689.0 182.7,691.0 183.2,693.0 183.7,695.0 184.2,697.1 184.7,699.1 185.2,701.2 185.7,703.3 186.2,705.4 186.7,707.5 187.2,709.7 187.7,711.8 188.2,713.9 188.7,716.0 189.2,718.1 189.7,720.2 190.2,722.3 190.7,724.4 191.2,726.5 191.7,728.5 192.2,730.6 192.7,732.6 193.2,734.6 193.7,736.6 194.2,738.6 194.7,740.5 195.2,742.4 195.7,744.3 196.2,746.2 196.7,748.0 197.2,749.8 197.7,751.6 198.2,753.3 198.7,755.0 199.2,756.7 199.7,758.3 200.2,759.9 200.7,761.5 201.2,763.0 201.7,764.5 202.2,765.9 202.7,767.4 203.2,768.7 203.7,769.5 212.7,769.8 213.2,769.9 213.7,769.9 222.2,770.1 222.7,770.1 223.2,770.0 223.7,770.0 224.2,769.9 224.7,769.8 225.2,769.7 225.7,769.7 226.2,769.6 226.7,769.5 227.2,769.4 227.7,769.3 228.2,769.2 228.7,769.1 229.2,769.1 229.7,769.0 230.2,768.9 230.7,768.9 231.2,768.8 231.7,768.7 238.2,768.8 238.7,768.8 239.2,768.9 239.7,768.9 240.2,769.0 240.7,769.1 241.2,769.1 241.7,769.2 242.2,769.3 242.7,769.3 243.2,769.4 243.7,769.4 244.2,769.5 244.7,769.6 261.2,770.0 261.7,770.0 262.2,770.1 262.7,770.1 263.2,770.2 263.7,770.3 264.2,770.3 264.7,770.4 265.2,770.5 265.7,770.5 266.2,770.6 266.7,770.7 267.2,770.7 267.7,770.8 274.2,770.8 274.7,770.7 275.2,770.7 275.7,770.6 276.2,770.5 276.7,770.4 277.2,770.4 277.7,770.3 278.2,770.2 278.7,770.1 279.2,770.0 279.7,769.9 280.2,769.8 280.7,769.7 281.2,769.6 281.7,769.5 282.2,769.4 282.7,769.3 283.2,769.3 283.7,769.2 284.2,769.1 284.7,769.1 311.7,768.9 312.2,769.0 312.7,769.0 313.2,769.1 313.7,769.2 314.2,769.2 314.7,769.3 315.2,769.4 315.7,769.5 316.2,769.6 316.7,769.6 317.2,769.7 317.7,769.8 318.2,769.9 318.7,770.0 319.2,770.1 319.7,770.1 320.2,770.2 320.7,770.3 321.2,770.3 327.7,770.3 328.2,770.3 328.7,770.2 329.2,770.2 329.7,770.1 330.2,770.0 330.7,769.9 331.2,769.9 331.7,769.8 332.2,769.7 332.7,769.7 333.2,769.6 333.7,769.5 334.2,769.5 334.7,769.4 363.2,769.1 363.7,769.2 364.2,769.2 364.7,769.3 365.2,769.4 365.7,769.4 366.2,769.5 366.7,769.6 367.2,769.7 367.7,769.8 368.2,769.9 368.7,770.0 369.2,770.1 369.7,770.1 370.2,770.2 370.7,770.3 371.2,770.4 371.7,770.5 372.2,770.6 372.7,770.6 373.2,770.7 373.7,770.7 380.2,770.7 380.7,770.6 381.2,770.6 381.7,770.5 382.2,770.5 382.7,770.4 383.2,770.3 383.7,770.3 384.2,770.2 384.7,770.1 385.2,770.1 385.7,770.0 386.2,770.0 386.7,769.9 402.2,769.5 402.7,769.4 403.2,769.3 403.7,769.3 404.2,769.2 404.7,769.1 405.2,769.1 405.7,769.0 406.2,768.9 406.7,768.8 407.2,768.8 407.7,768.7 408.2,768.6 408.7,768.6 409.2,768.5 409.7,768.4 410.2,768.4 411.7,768.3 412.2,768.2 412.7,768.1 413.2,768.0 413.7,767.9 414.2,767.8 414.7,767.7 415.2,767.6 415.7,767.5 416.2,767.4 416.7,767.3 417.2,767.2 417.7,767.2 418.2,767.1 420.2,767.1 420.7,767.2 421.2,767.3 421.7,767.5 422.2,767.6 422.7,767.8 423.2,768.0 423.7,768.2 424.2,768.5 424.7,768.7 425.2,768.9 425.7,769.2 426.2,769.4 426.7,769.6 427.2,769.8 427.7,770.0 428.2,770.1 454.2,770.0 454.7,769.9 455.2,769.9 455.7,769.8 456.2,769.7 456.7,769.7 457.2,769.6 457.7,769.5 458.2,769.4 458.7,769.4 459.2,769.3 459.7,769.2 460.2,769.1 460.7,769.1 461.2,769.0 461.7,768.9 462.2,768.9 468.7,768.9 469.2,768.9 469.7,769.0 470.2,769.1 470.7,769.1 471.2,769.2 471.7,769.3 472.2,769.4 472.7,769.4 473.2,769.5 473.7,769.6 474.2,769.7 474.7,769.7 475.2,769.8 475.7,769.9 476.2,770.0 476.7,770.0 477.2,770.1 504.7,770.3 505.2,770.3 505.7,770.2 506.2,770.1 506.7,770.1 507.2,770.0 507.7,769.9 508.2,769.8 508.7,769.7 509.2,769.6 509.7,769.5 510.2,769.4 510.7,769.3 511.2,769.2 511.7,769.1 512.2,769.0 512.7,768.9 513.2,768.8 513.7,768.7 514.2,768.7 514.7,768.6 515.2,768.5 515.7,768.5 522.7,768.5 523.2,768.6 523.7,768.6 524.2,768.7 524.7,768.7 525.2,768.8 525.7,768.9 526.2,768.9 526.7,769.0 527.2,769.0 543.7,769.4 544.2,769.5 544.7,769.5 545.2,769.6 545.7,769.7 546.2,769.7 546.7,769.8 547.2,769.9 547.7,769.9 548.2,770.0 548.7,770.1 549.2,770.2 549.7,770.2 550.2,770.3 550.7,770.4 551.2,770.4 551.7,770.5 558.2,770.5 558.7,770.5 559.2,770.4 559.7,770.4 560.2,770.3 560.7,770.2 561.2,770.1 561.7,770.0 562.2,770.0 562.7,769.9 563.2,769.8 563.7,769.7 564.2,769.6 564.7,769.6 565.2,769.5 565.7,769.4 566.2,769.4 566.7,769.3 567.2,769.2 595.7,769.5 596.2,769.6 596.7,769.6 597.2,769.7 597.7,769.8 598.2,769.8 598.7,769.9 599.2,770.0 599.7,770.1 600.2,770.1 600.7,770.2 601.2,770.3 601.7,770.4 602.2,770.4 602.7,770.5 603.2,770.5 603.7,770.6 609.7,770.6 610.2,770.6 610.7,770.5 611.2,770.5 611.7,770.4 612.2,770.3 612.7,770.2 613.2,770.2 613.7,770.1 614.2,770.0 614.7,769.9 615.2,769.8 615.7,769.7 616.2,769.6 616.7,769.5 617.2,769.5 617.7,769.4 618.2,769.3 618.7,769.3 619.2,769.2 619.7,769.1 646.7,768.7 647.2,768.7 647.7,768.8 648.2,768.8 648.7,768.9 649.2,769.0 649.7,769.1 650.2,769.2 650.7,769.3 651.2,769.4 651.7,769.5 652.2,769.6 652.7,769.7 653.2,769.8 653.7,769.9 654.2,770.0 654.7,770.1 655.2,770.1 655.7,770.2 656.2,770.3 656.7,770.4 657.2,770.4 657.7,770.5 665.2,770.4 665.7,770.3 666.2,770.3 666.7,770.2 667.2,770.1 667.7,770.1 686.7,769.7 687.2,769.7 687.7,769.6 688.2,769.6 688.7,769.5 689.2,769.4 689.7,769.4 690.2,769.3 690.7,769.2 691.2,769.2 691.7,769.1 692.2,769.1 692.7,769.0 699.7,769.0 700.2,769.0 700.7,769.1 701.2,769.1 701.7,769.2 702.2,769.3 702.7,769.4 703.2,769.4 703.7,769.5 704.2,769.6 704.7,769.7 705.2,769.8 705.7,769.9 706.2,769.9 706.7,770.0 707.2,770.1 707.7,770.2 708.2,770.2 708.7,770.3 736.7,769.6 737.2,769.6 737.7,769.5 738.2,769.5 738.7,769.4 739.2,769.3 739.7,769.2 740.2,769.2 740.7,769.1 741.2,769.0 741.7,768.9 742.2,768.8 742.7,768.8 743.2,768.7 743.7,768.6 744.2,768.5 744.7,768.5 745.2,768.4 745.7,768.3 751.7,768.3 752.2,768.4 752.7,768.4 753.2,768.5 753.7,768.6 754.2,768.7 754.7,768.7 755.2,768.8 755.7,768.9 756.2,769.0 756.7,769.1 757.2,769.2 757.7,769.2 758.2,769.3 758.7,769.4 759.2,769.5 759.7,769.6 760.2,769.6 760.7,769.7 761.2,769.7 761.7,769.8 788.7,770.5 789.2,770.5 789.7,770.4 790.2,770.4 790.7,770.3 791.2,770.2 791.7,770.1 792.2,770.0 792.7,770.0 793.2,769.9 793.7,769.8 794.2,769.7 794.7,769.6 795.2,769.5 795.7,769.4 796.2,769.3 796.7,769.3 797.2,769.2 797.7,769.1 798.2,769.0 798.7,769.0 806.2,769.1 806.7,769.1 807.2,769.2 807.7,769.2 808.2,769.3 808.7,769.3 809.2,769.4 809.7,769.5 810.2,769.5 829.2,769.7 829.7,769.8 830.2,769.8 830.7,769.9 831.2,770.0 831.7,770.0 832.2,770.1 832.7,770.1 833.2,770.2 840.7,770.3 841.2,770.2 841.7,770.2 842.2,770.1 842.7,770.0 843.2,769.9 843.7,769.8 844.2,769.8 844.7,769.7 845.2,769.6 845.7,769.5 846.2,769.4 846.7,769.3 847.2,769.2 847.7,769.1 848.2,769.0 848.7,768.9 849.2,768.9 849.7,768.8 850.2,768.7 850.7,768.7 877.7,769.3 878.2,769.3 878.7,769.4 879.2,769.4 879.7,769.5 880.2,769.6 880.7,769.7 881.2,769.7 881.7,769.8 882.2,769.9 882.7,770.0 883.2,770.1 883.7,770.2 884.2,770.3 884.7,770.4 885.2,770.5 885.7,770.5 886.2,770.6 886.7,770.7 887.2,770.7 887.7,770.8 888.2,770.9 894.2,770.8 894.7,770.7 895.2,770.7 895.7,770.6 896.2,770.5 896.7,770.5 897.2,770.4 897.7,770.3 898.2,770.2 898.7,770.2 899.2,770.1 899.7,770.0 900.2,769.9 900.7,769.9 901.2,769.8 901.7,769.7 902.2,769.7 902.7,769.6 930.7,769.0 931.2,769.0 931.7,769.1 932.2,769.1 932.7,769.2 933.2,769.3 933.7,769.4 934.2,769.4 934.7,769.5 935.2,769.6 935.7,769.7 936.2,769.8 936.7,769.9 937.2,769.9 937.7,770.0 938.2,770.1 938.7,770.1 939.2,770.2 939.7,770.3 946.7,770.2 947.2,770.2 947.7,770.1 948.2,770.1 948.7,770.0 949.2,769.9 949.7,769.9 950.2,769.8 950.7,769.7 951.2,769.7 951.7,769.6 952.2,769.6 952.7,769.5 953.2,769.4 959.7,769.3 960.2,768.8 960.7,767.6 961.2,766.3 961.7,765.0 962.2,763.6 962.7,762.1 963.2,760.6 963.7,759.0 964.2,757.4 964.7,755.8 965.2,754.1 965.7,752.3 966.2,750.5 966.7,748.7 967.2,746.9 967.7,745.0 968.2,743.1 968.7,741.2 969.2,739.3 969.7,737.3 970.2,735.4 970.7,733.4 971.2,731.5 971.7,729.6 972.2,727.7 972.7,725.8 973.2,723.9 973.7,722.1 974.2,720.3 974.7,718.6 975.2,716.9 975.7,715.3 976.2,713.7 976.7,712.2 977.2,710.8 977.7,709.4 978.2,708.1 978.7,707.0 979.2,705.9 979.7,704.9 980.2,704.0 980.7,703.2 981.2,702.5 981.7,701.9 982.2,701.4 982.7,701.1 983.2,700.8 983.7,700.7 984.2,700.7 984.7,700.8 985.2,701.1 985.7,701.4 986.2,702.0 986.7,702.6 987.2,703.3 987.7,704.2 988.2,705.2 988.7,706.3 989.2,707.5 989.7,708.8 990.2,710.2 990.7,711.7 991.2,713.2 991.7,714.9 992.2,716.6 992.7,718.4 993.2,720.2 993.7,722.1 994.2,724.0 994.7,726.0 995.2,728.0 995.7,730.1 996.2,732.1 996.7,734.2 997.2,736.2 997.7,738.3 998.2,740.3 998.7,742.4 999.2,744.4 999.7,746.4 1000.2,748.4 1000.7,750.3 1001.2,752.2 1001.7,754.1 1002.2,755.9 1002.7,757.7 1003.2,759.4 1003.7,761.1 1004.2,762.7 1004.7,764.3 1005.2,765.9 1005.7,767.4 1006.2,768.9 1006.7,770.1 1019.7,770.2 1020.2,770.1 1020.7,770.0 1021.2,770.0 1021.7,769.9 1022.2,769.8 1022.7,769.8 1023.2,769.7 1023.7,769.6 1024.2,769.5 1024.7,769.4 1025.2,769.3 1025.7,769.2 1026.2,769.2 1026.7,769.1 1027.2,769.0 1027.7,768.9 1028.2,768.8 1028.7,768.8 1029.2,768.7 1029.7,768.7 1035.7,768.7 1036.2,768.7 1036.7,768.8 1037.2,768.8 1037.7,768.9 1038.2,769.0 1038.7,769.0 1039.2,769.1 1039.7,769.2 1040.2,769.3 1040.7,769.3 1041.2,769.4 1041.7,769.5 1042.2,769.5 1042.7,769.6 1043.2,769.6 1043.7,769.7 1057.2,769.5 1057.7,769.3 1058.2,768.1 1058.7,766.9 1059.2,765.6 1059.7,764.3 1060.2,763.0 1060.7,761.6 1061.2,760.1 1061.7,758.6 1062.2,757.1 1062.7,755.5 1063.2,753.9 1063.7,752.2 1064.2,750.6 1064.7,748.9 1065.2,747.1 1065.7,745.4 1066.2,743.6 1066.7,741.8 1067.2,740.0 1067.7,738.2 1068.2,736.4 1068.7,734.6 1069.2,732.8 1069.7,730.9 1070.2,729.1 1070.7,727.4 1071.2,725.6 1071.7,723.9 1072.2,722.2 1072.7,720.5 1073.2,718.8 1073.7,717.3 1074.2,715.7 1074.7,714.2 1075.2,712.8 1075.7,711.4 1076.2,710.1 1076.7,708.9 1077.2,707.7 1077.7,706.6 1078.2,705.6 1078.7,704.7 1079.2,703.9 1079.7,703.2 1080.2,702.5 1080.7,702.0 1081.2,701.5 1081.7,701.2 1082.2,700.9 1082.7,700.8 1083.2,700.7 1083.7,700.8 1084.2,700.9 1084.7,701.3 1085.2,701.7 1085.7,702.2 1086.2,702.9 1086.7,703.7 1087.2,704.6 1087.7,705.6 1088.2,706.7 1088.7,707.9 1089.2,709.2 1089.7,710.6 1090.2,712.1 1090.7,713.7 1091.2,715.3 1091.7,717.0 1092.2,718.8 1092.7,720.6 1093.2,722.4 1093.7,724.3 1094.2,726.3 1094.7,728.2 1095.2,730.2 1095.7,732.2 1096.2,734.2 1096.7,736.3 1097.2,738.3 1097.7,740.3 1098.2,742.3 1098.7,744.2 1099.2,746.2 1099.7,748.1 1100.2,750.0 1100.7,751.9 1101.2,753.7 1101.7,755.5 1102.2,757.3 1102.7,759.0 1103.2,760.6 1103.7,762.2 1104.2,763.8 1104.7,765.3 1105.2,766.7 1105.7,768.2 1106.2,769.5 1106.7,769.8 1111.7,770.1 1112.2,770.1 1112.7,770.2 1113.2,770.3 1113.7,770.3 1114.2,770.4 1114.7,770.4 1115.2,770.5 1115.7,770.6 1116.2,770.6 1116.7,770.7 1117.2,770.7 1123.7,770.8 1124.2,770.8 1124.7,770.7 1125.2,770.6 1125.7,770.6 1126.2,770.5 1126.7,770.4 1127.2,770.3 1127.7,770.2 1128.2,770.1 1128.7,770.0 1129.2,769.9 1129.7,769.8 1130.2,769.7 1130.7,769.6 1131.2,769.5 1131.7,769.4 1132.2,769.4 1132.7,769.3 1133.2,769.2 1133.7,769.1 1134.2,769.1 1134.7,769.0 1153.7,769.1 1154.2,768.0 1154.7,766.5 1155.2,764.9 1155.7,763.2 1156.2,761.4 1156.7,759.5 1157.2,757.6 1157.7,755.6 1158.2,753.6 1158.7,751.4 1159.2,749.3 1159.7,747.1 1160.2,744.8 1160.7,742.5 1161.2,740.2 1161.7,737.8 1162.2,735.4 1162.7,733.0 1163.2,730.6 1163.7,728.2 1164.2,725.8 1164.7,723.5 1165.2,721.1 1165.7,718.8 1166.2,716.5 1166.7,714.2 1167.2,712.0 1167.7,709.9 1168.2,707.8 1168.7,705.8 1169.2,703.9 1169.7,702.1 1170.2,700.3 1170.7,698.7 1171.2,697.2 1171.7,695.9 1172.2,694.6 1172.7,693.5 1173.2,692.5 1173.7,691.6 1174.2,690.9 1174.7,690.4 1175.2,690.0 1175.7,689.7 1176.2,689.6 1176.7,689.6 1177.2,689.8 1177.7,690.0 1178.2,690.4 1178.7,690.8 1179.2,691.4 1179.7,692.0 1180.2,692.8 1180.7,693.6 1181.2,694.6 1181.7,695.6 1182.2,696.7 1182.7,697.9 1183.2,699.2 1183.7,700.6 1184.2,702.0 1184.7,703.5 1185.2,705.1 1185.7,706.7 1186.2,708.4 1186.7,710.1 1187.2,711.9 1187.7,713.8 1188.2,715.6 1188.7,717.5 1189.2,719.5 1189.7,721.4 1190.2,723.4 1190.7,725.4 1191.2,727.4 1191.7,729.4 1192.2,731.4 1192.7,733.4 1193.2,735.4 1193.7,737.3 1194.2,739.3 1194.7,741.3 1195.2,743.2 1195.7,745.1 1196.2,747.0 1196.7,748.8 1197.2,750.7 1197.7,752.4 1198.2,754.2 1198.7,755.9 1199.2,757.6 1199.7,759.2 1200.2,760.8 1200.7,762.3 1201.2,763.8 1201.7,765.2 1202.2,766.6 1202.7,767.9 1203.2,769.1 1203.7,769.3 1213.2,769.2 1213.7,769.3 1214.2,769.3 1214.7,769.4 1215.2,769.5 1215.7,769.5 1216.2,769.6 1216.7,769.7 1217.2,769.8 1217.7,769.9 1218.2,770.0 1218.7,770.1 1219.2,770.2 1219.7,770.3 1220.2,770.3 1220.7,770.4 1221.2,770.5 1221.7,770.6 1222.2,770.7 1222.7,770.7 1223.2,770.8 1223.7,770.8 1229.7,770.8 1230.2,770.8 1230.7,770.7 1231.2,770.6 1231.7,770.6 1232.2,770.5 1232.7,770.4 1233.2,770.4 1233.7,770.3 1234.2,770.2 1234.7,770.2 1235.2,770.1 1235.7,770.0 1236.2,770.0 1236.7,769.9 1237.2,769.9 1245.7,769.6 1246.2,769.6 1246.7,769.4 1247.2,769.2 1247.7,769.0 1248.2,768.8 1248.7,768.5 1249.2,768.3 1249.7,768.0 1250.2,767.8 1250.7,767.7 1251.2,767.5 1251.7,767.4 1252.7,767.4" stroke="#55b946"/>
<path d="M181.7,769.2 198.2,769.4 198.7,769.4 199.2,769.5 199.7,769.6 200.2,769.6 200.7,769.7 201.2,769.8 201.7,769.9 202.2,770.0 202.7,770.1 203.2,770.1 203.7,770.2 204.2,770.3 204.7,770.4 205.2,770.5 205.7,770.6 206.2,770.7 206.7,770.7 207.2,770.8 207.7,770.8 208.2,770.9 214.2,770.9 214.7,770.8 215.2,770.8 215.7,770.7 216.2,770.6 216.7,770.5 217.2,770.5 217.7,770.4 218.2,770.3 218.7,770.2 219.2,770.1 219.7,770.1 220.2,770.0 220.7,769.9 221.2,769.8 221.7,769.8 222.2,769.7 222.7,769.7 239.7,769.2 240.2,769.1 240.7,769.1 241.2,769.0 241.7,769.0 242.2,768.9 242.7,768.9 243.2,768.8 250.7,768.7 251.2,768.7 251.7,768.8 252.2,768.9 252.7,768.9 253.2,769.0 253.7,769.1 254.2,769.2 254.7,769.3 255.2,769.3 255.7,769.4 256.2,769.5 256.7,769.6 257.2,769.7 257.7,769.8 258.2,769.9 258.7,769.9 259.2,770.0 259.7,770.1 260.2,770.1 260.7,770.2 268.2,770.1 268.7,770.0 269.2,769.9 269.7,769.9 270.2,769.8 270.7,769.8 271.2,769.7 271.7,769.7 281.2,769.5 281.7,769.3 282.2,769.2 282.7,769.1 283.2,768.9 283.7,768.8 284.2,768.6 284.7,768.4 285.2,768.2 285.7,768.0 286.2,767.8 286.7,767.6 287.2,767.5 287.7,767.3 288.2,767.2 288.7,767.1 289.2,767.0 289.7,766.9 291.2,766.9 291.7,767.0 292.2,767.1 292.7,767.2 293.2,767.3 293.7,767.4 294.2,767.5 294.7,767.7 295.2,767.8 295.7,767.9 296.2,768.1 296.7,768.2 297.2,768.3 297.7,768.4 298.2,768.5 298.7,768.6 299.2,768.6 302.2,768.8 302.7,768.8 303.2,768.9 303.7,768.9 304.2,769.0 304.7,769.1 305.2,769.2 305.7,769.3 306.2,769.4 306.7,769.4 307.2,769.5 307.7,769.6 308.2,769.7 308.7,769.8 309.2,769.9 309.7,770.0 310.2,770.1 310.7,770.2 311.2,770.3 311.7,770.3 312.2,770.4 312.7,770.5 313.2,770.5 339.7,770.1 340.2,770.1 340.7,770.0 341.2,769.9 341.7,769.9 342.2,769.8 342.7,769.7 343.2,769.6 343.7,769.5 344.2,769.4 344.7,769.3 345.2,769.2 345.7,769.2 346.2,769.1 346.7,769.0 347.2,768.9 347.7,768.8 348.2,768.7 348.7,768.6 349.2,768.6 349.7,768.5 350.2,768.5 356.2,768.5 356.7,768.5 357.2,768.6 357.7,767.5 358.2,766.0 358.7,764.2 359.2,762.4 359.7,760.4 360.2,758.4 360.7,756.2 361.2,754.0 361.7,751.8 362.2,749.4 362.7,747.0 363.2,744.6 363.7,742.1 364.2,739.6 364.7,737.0 365.2,734.4 365.7,731.8 366.2,729.1 366.7,726.4 367.2,723.7 367.7,721.0 368.2,718.2 368.7,715.5 369.2,712.8 369.7,710.1 370.2,707.4 370.7,704.7 371.2,702.1 371.7,699.5 372.2,697.0 372.7,694.5 373.2,692.1 373.7,689.7 374.2,687.4 374.7,685.2 375.2,683.1 375.7,681.1 376.2,679.1 376.7,677.3 377.2,675.6 377.7,674.0 378.2,672.6 378.7,671.2 379.2,670.0 379.7,668.9 380.2,668.0 380.7,667.2 381.2,666.6 381.7,666.1 382.2,665.7 382.7,665.5 383.2,665.5 383.7,665.6 384.2,665.9 384.7,666.3 385.2,667.0 385.7,667.7 386.2,668.7 386.7,669.7 387.2,671.0 387.7,672.3 388.2,673.9 388.7,675.5 389.2,677.3 389.7,679.2 390.2,681.2 390.7,683.4 391.2,685.6 391.7,687.9 392.2,690.4 392.7,692.9 393.2,695.4 393.7,698.1 394.2,700.8 394.7,703.5 395.2,706.3 395.7,709.1 396.2,711.9 396.7,714.8 397.2,717.6 397.7,720.5 398.2,723.4 398.7,726.2 399.2,729.0 399.7,731.8 400.2,734.6 400.7,737.3 401.2,740.0 401.7,742.7 402.2,745.2 402.7,747.8 403.2,750.3 403.7,752.7 404.2,755.0 404.7,757.3 405.2,759.5 405.7,761.6 406.2,763.6 406.7,765.5 407.2,767.2 407.7,768.8 408.2,768.9 408.7,768.9 409.2,769.0 409.7,769.0 410.2,769.1 410.7,769.1 411.2,769.2 411.7,769.3 412.2,769.3 412.7,769.4 413.2,769.5 413.7,769.5 414.2,769.6 414.7,769.6 431.7,770.0 432.2,770.1 432.7,770.1 433.2,770.2 433.7,770.2 434.2,770.3 434.7,770.4 435.2,770.4 435.7,770.5 436.2,770.5 436.7,770.6 437.2,770.6 444.2,770.7 444.7,770.6 445.2,770.6 445.7,770.5 446.2,770.4 446.7,770.3 447.2,770.2 447.7,770.2 448.2,770.1 448.7,770.0 449.2,769.9 449.7,769.8 450.2,769.7 450.7,769.6 451.2,769.5 451.7,769.4 452.2,769.3 452.7,769.2 453.2,769.1 453.7,769.1 454.2,769.0 454.7,768.9 455.2,768.9 481.7,768.9 482.2,769.0 482.7,769.1 483.2,769.1 483.7,769.2 484.2,769.3 484.7,769.3 485.2,769.4 485.7,769.5 486.2,769.6 486.7,769.7 487.2,769.8 487.7,769.8 488.2,769.9 488.7,770.0 489.2,770.1 489.7,770.2 490.2,770.2 490.7,770.3 491.2,770.4 491.7,770.4 497.7,770.4 498.2,770.4 498.7,770.3 499.2,770.2 499.7,770.2 500.2,770.1 500.7,770.0 501.2,770.0 501.7,769.9 502.2,769.8 502.7,769.8 503.2,769.7 503.7,769.6 504.2,769.6 504.7,769.5 505.2,769.5 533.7,769.2 534.2,769.3 534.7,769.3 535.2,769.4 535.7,769.4 536.2,769.5 536.7,769.6 537.2,769.7 537.7,769.8 538.2,769.9 538.7,769.9 539.2,770.0 539.7,770.1 540.2,770.2 540.7,770.3 541.2,770.4 541.7,770.5 542.2,770.5 542.7,770.6 543.2,770.7 543.7,770.7 550.2,770.6 550.7,770.6 551.2,770.5 551.7,770.5 552.2,770.4 552.7,770.3 553.2,770.3 553.7,770.2 554.2,770.1 554.7,770.0 555.2,770.0 555.7,769.9 556.2,769.9 556.7,769.8 557.2,769.8 572.7,769.3 573.2,769.2 573.7,769.2 574.2,769.1 574.7,769.1 575.2,769.0 575.7,768.9 576.2,768.9 576.7,768.8 577.2,768.7 577.7,768.7 578.2,768.6 578.7,768.5 579.2,768.5 579.7,768.4 586.2,768.4 586.7,768.4 587.2,768.5 587.7,768.6 588.2,768.6 588.7,768.7 589.2,768.8 589.7,768.9 590.2,769.0 590.7,769.1 591.2,769.2 591.7,769.3 592.2,769.4 592.7,769.5 593.2,769.6 593.7,769.6 594.2,769.7 594.7,769.8 595.2,769.9 595.7,769.9 596.2,770.0 596.7,770.0 624.2,770.0 624.7,770.0 625.2,769.9 625.7,769.9 626.2,769.8 626.7,769.7 627.2,769.7 627.7,769.6 628.2,769.5 628.7,769.4 629.2,769.4 629.7,769.3 630.2,769.2 630.7,769.1 631.2,769.1 631.7,769.0 632.2,768.9 632.7,768.9 638.7,768.9 639.2,768.9 639.7,769.0 640.2,769.1 640.7,769.1 641.2,769.2 641.7,769.3 642.2,769.4 642.7,769.4 643.2,769.5 643.7,769.6 644.2,769.7 644.7,769.7 645.2,769.8 645.7,769.9 646.2,769.9 646.7,770.0 647.2,770.1 662.7,769.9 663.2,767.4 663.7,764.9 664.2,762.3 664.7,759.7 665.2,757.0 665.7,754.1 666.2,751.2 666.7,748.3 667.2,745.2 667.7,742.1 668.2,738.8 668.7,735.6 669.2,732.2 669.7,728.8 670.2,725.3 670.7,721.8 671.2,718.3 671.7,714.7 672.2,711.2 672.7,707.6 673.2,704.0 673.7,700.4 674.2,696.8 674.7,693.2 675.2,689.7 675.7,686.3 676.2,682.9 676.7,679.5 677.2,676.3 677.7,673.1 678.2,670.0 678.7,667.1 679.2,664.2 679.7,661.5 680.2,658.9 680.7,656.5 681.2,654.3 681.7,652.2 682.2,650.3 682.7,648.5 683.2,647.0 683.7,645.6 684.2,644.5 684.7,643.5 685.2,642.8 685.7,642.2 686.2,641.9 686.7,641.8 687.2,641.9 687.7,642.2 688.2,642.8 688.7,643.5 689.2,644.5 689.7,645.6 690.2,647.0 690.7,648.5 691.2,650.3 691.7,652.2 692.2,654.3 692.7,656.5 693.2,658.9 693.7,661.5 694.2,664.2 694.7,667.1 695.2,670.0 695.7,673.1 696.2,676.3 696.7,679.5 697.2,682.9 697.7,686.3 698.2,689.7 698.7,693.2 699.2,696.8 699.7,700.4 700.2,704.0 700.7,707.6 701.2,711.2 701.7,714.7 702.2,718.3 702.7,721.8 703.2,725.3 703.7,728.8 704.2,732.2 704.7,735.6 705.2,738.8 705.7,742.1 706.2,745.2 706.7,748.3 707.2,751.2 707.7,754.1 708.2,756.9 708.7,759.6 709.2,762.2 709.7,764.7 710.2,767.1 710.7,769.4 712.7,769.5 713.2,768.9 713.7,765.8 714.2,762.6 714.7,759.2 715.2,755.7 715.7,752.1 716.2,748.3 716.7,744.5 717.2,740.5 717.7,736.4 718.2,732.2 718.7,727.9 719.2,723.5 719.7,719.1 720.2,714.5 720.7,709.9 721.2,705.3 721.7,700.6 722.2,695.9 722.7,691.1 723.2,686.3 723.7,681.5 724.2,676.8 724.7,672.0 725.2,667.3 725.7,662.7 726.2,658.1 726.7,653.6 727.2,649.2 727.7,644.9 728.2,640.7 728.7,636.6 729.2,632.7 729.7,629.0 730.2,625.5 730.7,622.1 731.2,618.9 731.7,616.0 732.2,613.2 732.7,610.7 733.2,608.5 733.7,606.5 734.2,604.7 734.7,603.3 735.2,602.0 735.7,601.1 736.2,600.5 736.7,600.1 737.2,600.0 737.7,600.2 738.2,600.7 738.7,601.4 739.2,602.5 739.7,603.8 740.2,605.4 740.7,607.2 741.2,609.3 741.7,611.6 742.2,614.2 742.7,617.0 743.2,620.0 743.7,623.2 744.2,626.6 744.7,630.3 745.2,634.0 745.7,638.0 746.2,642.0 746.7,646.2 747.2,650.6 747.7,655.0 748.2,659.5 748.7,664.1 749.2,668.7 749.7,673.4 750.2,678.2 750.7,682.9 751.2,687.7 751.7,692.4 752.2,697.2 752.7,701.9 753.2,706.5 753.7,711.2 754.2,715.7 754.7,720.2 755.2,724.6 755.7,729.0 756.2,733.2 756.7,737.4 757.2,741.4 757.7,745.3 758.2,749.2 758.7,752.9 759.2,756.5 759.7,759.9 760.2,763.2 760.7,763.3 761.2,763.2 761.7,759.9 762.2,756.4 762.7,752.8 763.2,749.1 763.7,745.2 764.2,741.3 764.7,737.2 765.2,733.0 765.7,728.8 766.2,724.4 766.7,720.0 767.2,715.4 767.7,710.8 768.2,706.2 768.7,701.5 769.2,696.8 769.7,692.0 770.2,687.2 770.7,682.5 771.2,677.7 771.7,672.9 772.2,668.2 772.7,663.5 773.2,658.9 773.7,654.4 774.2,649.9 774.7,645.6 775.2,641.4 775.7,637.3 776.2,633.3 776.7,629.5 777.2,625.9 777.7,622.5 778.2,619.2 778.7,616.2 779.2,613.4 779.7,610.8 780.2,608.4 780.7,606.3 781.2,604.5 781.7,602.9 782.2,601.6 782.7,600.5 783.2,599.8 783.7,599.3 784.2,599.1 784.7,599.2 785.2,599.5 785.7,600.0 786.2,600.8 786.7,601.8 787.2,603.0 787.7,604.5 788.2,606.2 788.7,608.1 789.2,610.2 789.7,612.5 790.2,614.9 790.7,617.6 791.2,620.5 791.7,623.5 792.2,626.7 792.7,630.0 793.2,633.5 793.7,637.1 794.2,640.8 794.7,644.7 795.2,648.6 795.7,652.6 796.2,656.8 796.7,660.9 797.2,665.2 797.7,669.4 798.2,673.8 798.7,678.1 799.2,682.5 799.7,686.8 800.2,691.2 800.7,695.5 801.2,699.9 801.7,704.2 802.2,708.4 802.7,712.7 803.2,716.8 803.7,720.9 804.2,725.0 804.7,729.0 805.2,732.8 805.7,736.7 806.2,740.4 806.7,744.0 807.2,747.6 807.7,751.0 808.2,754.4 808.7,757.6 809.2,760.7 809.7,763.6 810.2,766.3 810.7,768.7 816.7,768.8 817.2,768.8 817.7,768.9 818.2,768.9 818.7,769.0 819.2,769.1 819.7,769.2 820.2,769.3 820.7,769.4 821.2,769.5 821.7,769.6 822.2,769.7 822.7,769.8 823.2,769.9 823.7,770.0 824.2,770.1 824.7,770.2 825.2,770.3 825.7,770.3 826.2,770.4 826.7,770.5 827.2,770.5 827.7,770.6 834.7,770.5 835.2,770.5 835.7,770.4 836.2,770.4 836.7,770.3 837.2,770.2 837.7,770.2 838.2,770.1 838.7,770.1 856.7,769.7 857.2,769.7 857.7,769.6 858.2,769.6 858.7,769.5 859.2,769.4 859.7,769.4 860.2,769.3 860.7,769.2 861.2,769.2 861.7,769.1 862.2,767.7 862.7,765.3 863.2,762.7 863.7,760.0 864.2,757.1 864.7,754.1 865.2,751.0 865.7,747.8 866.2,744.6 866.7,741.2 867.2,737.8 867.7,734.3 868.2,730.7 868.7,727.0 869.2,723.3 869.7,719.6 870.2,715.7 870.7,711.9 871.2,708.0 871.7,704.2 872.2,700.3 872.7,696.4 873.2,692.5 873.7,688.7 874.2,684.9 874.7,681.1 875.2,677.4 875.7,673.8 876.2,670.2 876.7,666.7 877.2,663.4 877.7,660.1 878.2,657.0 878.7,654.0 879.2,651.2 879.7,648.5 880.2,646.0 880.7,643.7 881.2,641.5 881.7,639.6 882.2,637.8 882.7,636.3 883.2,634.9 883.7,633.8 884.2,632.9 884.7,632.3 885.2,631.8 885.7,631.6 886.2,631.6 886.7,631.9 887.2,632.4 887.7,633.1 888.2,634.0 888.7,635.2 889.2,636.6 889.7,638.2 890.2,640.0 890.7,641.9 891.2,644.1 891.7,646.5 892.2,649.0 892.7,651.8 893.2,654.6 893.7,657.6 894.2,660.8 894.7,664.0 895.2,667.4 895.7,670.9 896.2,674.5 896.7,678.1 897.2,681.9 897.7,685.6 898.2,689.4 898.7,693.3 899.2,697.2 899.7,701.1 900.2,704.9 900.7,708.8 901.2,712.7 901.7,716.5 902.2,720.3 902.7,724.1 903.2,727.8 903.7,731.4 904.2,735.0 904.7,738.5 905.2,741.9 905.7,745.2 906.2,748.5 906.7,751.7 907.2,754.7 907.7,757.7 908.2,760.6 908.7,763.3 909.2,765.9 909.7,768.3 910.2,768.6 910.7,767.2 911.2,765.8 911.7,764.2 912.2,762.6 912.7,761.0 913.2,759.3 913.7,757.5 914.2,755.7 914.7,753.8 915.2,751.9 915.7,749.9 916.2,747.9 916.7,745.9 917.2,743.8 917.7,741.6 918.2,739.5 918.7,737.3 919.2,735.1 919.7,732.9 920.2,730.7 920.7,728.4 921.2,726.2 921.7,723.9 922.2,721.7 922.7,719.4 923.2,717.2 923.7,715.0 924.2,712.8 924.7,710.7 925.2,708.5 925.7,706.4 926.2,704.4 926.7,702.4 927.2,700.5 927.7,698.6 928.2,696.7 928.7,695.0 929.2,693.3 929.7,691.7 930.2,690.2 930.7,688.8 931.2,687.4 931.7,686.2 932.2,685.1 932.7,684.0 933.2,683.1 933.7,682.3 934.2,681.6 934.7,681.0 935.2,680.5 935.7,680.1 936.2,679.9 936.7,679.7 937.2,679.7 937.7,679.8 938.2,680.1 938.7,680.6 939.2,681.1 939.7,681.9 940.2,682.7 940.7,683.8 941.2,684.9 941.7,686.2 942.2,687.6 942.7,689.1 943.2,690.7 943.7,692.5 944.2,694.3 944.7,696.3 945.2,698.3 945.7,700.4 946.2,702.6 946.7,704.8 947.2,707.2 947.7,709.5 948.2,711.9 948.7,714.4 949.2,716.9 949.7,719.4 950.2,721.9 950.7,724.4 951.2,727.0 951.7,729.5 952.2,732.0 952.7,734.5 953.2,737.0 953.7,739.4 954.2,741.9 954.7,744.2 955.2,746.6 955.7,748.9 956.2,751.1 956.7,753.3 957.2,755.5 957.7,757.6 958.2,759.6 958.7,761.6 959.2,763.5 959.7,765.4 960.2,767.3 960.7,769.2 961.2,770.2 961.7,770.1 962.2,770.0 962.7,769.9 963.2,769.9 963.7,769.8 964.2,769.7 964.7,769.3 965.2,767.6 965.7,766.0 966.2,764.3 966.7,762.5 967.2,760.7 967.7,758.8 968.2,756.9 968.7,754.9 969.2,752.8 969.7,750.7 970.2,748.5 970.7,746.3 971.2,744.1 971.7,741.8 972.2,739.5 972.7,737.1 973.2,734.7 973.7,732.4 974.2,730.0 974.7,727.6 975.2,725.2 975.7,722.8 976.2,720.4 976.7,718.1 977.2,715.8 977.7,713.6 978.2,711.4 978.7,709.2 979.2,707.1 979.7,705.1 980.2,703.2 980.7,701.3 981.2,699.6 981.7,698.0 982.2,696.4 982.7,695.0 983.2,693.7 983.7,692.5 984.2,691.5 984.7,690.6 985.2,689.8 985.7,689.2 986.2,688.7 986.7,688.3 987.2,688.1 987.7,688.1 988.2,688.2 988.7,688.4 989.2,688.7 989.7,689.1 990.2,689.6 990.7,690.2 991.2,691.0 991.7,691.8 992.2,692.7 992.7,693.8 993.2,694.9 993.7,696.1 994.2,697.4 994.7,698.8 995.2,700.3 995.7,701.8 996.2,703.4 996.7,705.1 997.2,706.8 997.7,708.6 998.2,710.5 998.7,712.4 999.2,714.3 999.7,716.3 1000.2,718.3 1000.7,720.3 1001.2,722.3 1001.7,724.4 1002.2,726.5 1002.7,728.5 1003.2,730.6 1003.7,732.7 1004.2,734.8 1004.7,736.8 1005.2,738.9 1005.7,740.9 1006.2,742.9 1006.7,744.9 1007.2,746.8 1007.7,748.8 1008.2,750.6 1008.7,752.5 1009.2,751.6 1009.7,750.6 1010.2,749.5 1010.7,748.2 1011.2,746.8 1011.7,745.2 1012.2,743.5 1012.7,741.6 1013.2,739.6 1013.7,737.5 1014.2,734.9 1014.7,731.3 1015.2,727.5 1015.7,723.7 1016.2,719.8 1016.7,715.9 1017.2,711.9 1017.7,707.8 1018.2,703.8 1018.7,699.7 1019.2,695.6 1019.7,691.5 1020.2,687.4 1020.7,683.4 1021.2,679.3 1021.7,675.3 1022.2,671.3 1022.7,667.4 1023.2,663.5 1023.7,659.8 1024.2,656.1 1024.7,652.5 1025.2,649.0 1025.7,645.6 1026.2,642.4 1026.7,639.3 1027.2,636.4 1027.7,633.6 1028.2,630.9 1028.7,628.5 1029.2,626.2 1029.7,624.2 1030.2,622.3 1030.7,620.6 1031.2,619.2 1031.7,617.9 1032.2,616.9 1032.7,616.1 1033.2,615.6 1033.7,615.2 1034.2,615.1 1034.7,615.2 1035.2,615.5 1035.7,616.1 1036.2,616.8 1036.7,617.7 1037.2,618.9 1037.7,620.2 1038.2,621.8 1038.7,623.5 1039.2,625.4 1039.7,627.5 1040.2,629.8 1040.7,632.3 1041.2,634.9 1041.7,637.6 1042.2,640.5 1042.7,643.5 1043.2,646.7 1043.7,650.0 1044.2,653.3 1044.7,656.8 1045.2,660.4 1045.7,664.0 1046.2,667.8 1046.7,671.5 1047.2,675.4 1047.7,679.2 1048.2,683.1 1048.7,687.1 1049.2,691.0 1049.7,694.9 1050.2,698.9 1050.7,702.8 1051.2,706.7 1051.7,710.6 1052.2,714.4 1052.7,718.2 1053.2,722.0 1053.7,725.7 1054.2,729.3 1054.7,732.9 1055.2,736.4 1055.7,739.9 1056.2,741.6 1056.7,743.3 1057.2,744.7 1057.7,746.1 1058.2,747.3 1058.7,748.3 1059.2,749.2 1059.7,749.9 1060.2,750.5 1060.7,750.9 1061.2,748.7 1061.7,746.5 1062.2,744.2 1062.7,741.9 1063.2,739.5 1063.7,737.1 1064.2,734.7 1064.7,732.3 1065.2,729.9 1065.7,727.4 1066.2,725.0 1066.7,722.5 1067.2,720.1 1067.7,717.6 1068.2,715.2 1068.7,712.8 1069.2,710.5 1069.7,708.2 1070.2,705.9 1070.7,703.7 1071.2,701.6 1071.7,699.5 1072.2,697.5 1072.7,695.6 1073.2,693.8 1073.7,692.1 1074.2,690.5 1074.7,688.9 1075.2,687.5 1075.7,686.3 1076.2,685.1 1076.7,684.1 1077.2,683.1 1077.7,682.4 1078.2,681.7 1078.7,681.2 1079.2,680.9 1079.7,680.7 1080.2,680.6 1080.7,680.7 1081.2,680.9 1081.7,681.2 1082.2,681.7 1082.7,682.3 1083.2,683.1 1083.7,683.9 1084.2,684.9 1084.7,686.1 1085.2,687.3 1085.7,688.7 1086.2,690.2 1086.7,691.7 1087.2,693.4 1087.7,695.2 1088.2,697.0 1088.7,699.0 1089.2,701.0 1089.7,703.1 1090.2,705.2 1090.7,707.4 1091.2,709.7 1091.7,712.0 1092.2,714.3 1092.7,716.7 1093.2,719.0 1093.7,721.4 1094.2,723.9 1094.7,726.3 1095.2,728.7 1095.7,731.1 1096.2,733.5 1096.7,735.9 1097.2,738.2 1097.7,740.6 1098.2,742.8 1098.7,745.1 1099.2,747.3 1099.7,749.5 1100.2,751.6 1100.7,753.7 1101.2,755.7 1101.7,757.7 1102.2,759.6 1102.7,761.4 1103.2,763.2 1103.7,764.9 1104.2,766.6 1104.7,768.2 1105.2,769.0 1105.7,766.2 1106.2,763.3 1106.7,760.2 1107.2,757.0 1107.7,753.7 1108.2,750.3 1108.7,746.9 1109.2,743.3 1109.7,739.6 1110.2,735.8 1110.7,732.0 1111.2,728.0 1111.7,724.0 1112.2,719.9 1112.7,715.8 1113.2,711.6 1113.7,707.4 1114.2,703.1 1114.7,698.8 1115.2,694.4 1115.7,690.1 1116.2,685.7 1116.7,681.4 1117.2,677.1 1117.7,672.8 1118.2,668.6 1118.7,664.4 1119.2,660.3 1119.7,656.2 1120.2,652.3 1120.7,648.4 1121.2,644.6 1121.7,641.0 1122.2,637.5 1122.7,634.2 1123.2,631.0 1123.7,628.0 1124.2,625.1 1124.7,622.5 1125.2,620.0 1125.7,617.8 1126.2,615.7 1126.7,613.9 1127.2,612.3 1127.7,610.9 1128.2,609.8 1128.7,608.9 1129.2,608.2 1129.7,607.8 1130.2,607.6 1130.7,607.7 1131.2,608.0 1131.7,608.6 1132.2,609.4 1132.7,610.5 1133.2,611.8 1133.7,613.3 1134.2,615.1 1134.7,617.1 1135.2,619.3 1135.7,621.7 1136.2,624.3 1136.7,627.1 1137.2,630.1 1137.7,633.3 1138.2,636.6 1138.7,640.1 1139.2,643.7 1139.7,647.4 1140.2,651.3 1140.7,655.3 1141.2,659.3 1141.7,663.5 1142.2,667.7 1142.7,672.0 1143.2,676.3 1143.7,680.6 1144.2,685.0 1144.7,689.4 1145.2,693.7 1145.7,698.1 1146.2,702.5 1146.7,706.8 1147.2,711.1 1147.7,715.3 1148.2,719.5 1148.7,723.6 1149.2,727.6 1149.7,731.6 1150.2,735.5 1150.7,739.3 1151.2,743.0 1151.7,746.7 1152.2,750.2 1152.7,753.6 1153.2,756.9 1153.7,760.0 1154.2,763.1 1154.7,766.0 1155.2,768.7 1155.7,768.1 1156.2,766.5 1156.7,764.8 1157.2,763.0 1157.7,761.2 1158.2,759.2 1158.7,757.2 1159.2,755.1 1159.7,753.0 1160.2,750.9 1160.7,748.6 1161.2,746.4 1161.7,744.0 1162.2,741.7 1162.7,739.3 1163.2,736.9 1163.7,734.4 1164.2,731.9 1164.7,729.4 1165.2,726.9 1165.7,724.4 1166.2,721.9 1166.7,719.3 1167.2,716.8 1167.7,714.3 1168.2,711.9 1168.7,709.4 1169.2,707.0 1169.7,704.7 1170.2,702.4 1170.7,700.2 1171.2,698.0 1171.7,695.9 1172.2,693.9 1172.7,691.9 1173.2,690.1 1173.7,688.3 1174.2,686.7 1174.7,685.1 1175.2,683.7 1175.7,682.4 1176.2,681.2 1176.7,680.2 1177.2,679.3 1177.7,678.5 1178.2,677.9 1178.7,677.3 1179.2,677.0 1179.7,676.8 1180.2,676.7 1180.7,676.8 1181.2,677.0 1181.7,677.4 1182.2,677.9 1182.7,678.5 1183.2,679.3 1183.7,680.3 1184.2,681.3 1184.7,682.6 1185.2,683.9 1185.7,685.3 1186.2,686.9 1186.7,688.6 1187.2,690.4 1187.7,692.3 1188.2,694.2 1188.7,696.3 1189.2,698.5 1189.7,700.7 1190.2,703.0 1190.7,705.3 1191.2,707.7 1191.7,710.1 1192.2,712.6 1192.7,715.1 1193.2,717.6 1193.7,720.2 1194.2,722.7 1194.7,725.3 1195.2,727.8 1195.7,730.4 1196.2,732.9 1196.7,735.4 1197.2,737.9 1197.7,740.3 1198.2,742.7 1198.7,745.1 1199.2,747.4 1199.7,749.7 1200.2,751.9 1200.7,754.1 1201.2,756.2 1201.7,758.2 1202.2,760.1 1202.7,762.0 1203.2,763.8 1203.7,765.4 1204.2,766.9 1204.7,768.2 1205.2,768.5 1205.7,768.5 1206.2,768.6 1206.7,768.2 1207.2,766.9 1207.7,765.5 1208.2,764.0 1208.7,762.4 1209.2,760.6 1209.7,758.8 1210.2,757.0 1210.7,755.0 1211.2,753.0 1211.7,751.0 1212.2,748.9 1212.7,746.8 1213.2,744.6 1213.7,742.4 1214.2,740.1 1214.7,737.9 1215.2,735.6 1215.7,733.3 1216.2,730.9 1216.7,728.6 1217.2,726.3 1217.7,724.0 1218.2,721.6 1218.7,719.3 1219.2,717.1 1219.7,714.8 1220.2,712.6 1220.7,710.4 1221.2,708.3 1221.7,706.2 1222.2,704.2 1222.7,702.3 1223.2,700.4 1223.7,698.7 1224.2,697.0 1224.7,695.4 1225.2,693.9 1225.7,692.5 1226.2,691.2 1226.7,690.0 1227.2,689.0 1227.7,688.0 1228.2,687.2 1228.7,686.5 1229.2,686.0 1229.7,685.6 1230.2,685.3 1230.7,685.1 1231.2,685.1 1231.7,685.2 1232.2,685.5 1232.7,685.9 1233.2,686.4 1233.7,687.1 1234.2,687.9 1234.7,688.8 1235.2,689.9 1235.7,691.0 1236.2,692.3 1236.7,693.7 1237.2,695.2 1237.7,696.8 1238.2,698.5 1238.7,700.3 1239.2,702.2 1239.7,704.1 1240.2,706.1 1240.7,708.2 1241.2,710.4 1241.7,712.5 1242.2,714.8 1242.7,717.0 1243.2,719.3 1243.7,721.7 1244.2,724.0 1244.7,726.3 1245.2,728.7 1245.7,731.0 1246.2,733.4 1246.7,735.7 1247.2,738.0 1247.7,740.3 1248.2,742.6 1248.7,744.8 1249.2,747.0 1249.7,749.1 1250.2,751.2 1250.7,753.3 1251.2,755.3 1251.7,757.2 1252.2,759.1 1252.7,760.9" stroke="#3b4fa6"/>
<path d="M181.7,766.9 182.2,766.5 182.7,766.3 183.2,766.3 183.7,766.4 184.2,766.7 184.7,767.1 185.2,767.6 185.7,768.1 186.2,768.7 186.7,769.2 187.2,769.8 187.7,770.3 188.2,770.5 193.2,770.4 193.7,770.3 194.2,770.3 194.7,770.2 195.2,770.1 195.7,770.1 196.2,770.0 196.7,769.9 197.2,769.8 197.7,769.7 198.2,769.6 198.7,769.5 199.2,769.4 199.7,769.4 200.2,769.3 200.7,769.2 201.2,769.1 201.7,769.0 202.2,769.0 202.7,768.9 203.2,768.8 203.7,768.3 204.2,766.9 204.7,765.3 205.2,763.7 205.7,762.0 206.2,760.2 206.7,758.3 207.2,756.4 207.7,754.3 208.2,752.3 208.7,750.1 209.2,748.0 209.7,745.7 210.2,743.5 210.7,741.2 211.2,738.8 211.7,736.5 212.2,734.1 212.7,731.7 213.2,729.2 213.7,726.8 214.2,724.3 214.7,721.9 215.2,719.4 215.7,717.0 216.2,714.6 216.7,712.2 217.2,709.8 217.7,707.5 218.2,705.2 218.7,702.9 219.2,700.7 219.7,698.6 220.2,696.5 220.7,694.5 221.2,692.6 221.7,690.8 222.2,689.0 222.7,687.4 223.2,685.9 223.7,684.4 224.2,683.1 224.7,681.9 225.2,680.8 225.7,679.8 226.2,679.0 226.7,678.3 227.2,677.7 227.7,677.2 228.2,676.9 228.7,676.7 229.2,676.7 229.7,676.8 230.2,677.0 230.7,677.4 231.2,677.8 231.7,678.4 232.2,679.2 232.7,680.0 233.2,681.0 233.7,682.1 234.2,683.3 234.7,684.6 235.2,686.0 235.7,687.5 236.2,689.1 236.7,690.8 237.2,692.6 237.7,694.4 238.2,696.4 238.7,698.4 239.2,700.4 239.7,702.6 240.2,704.7 240.7,707.0 241.2,709.2 241.7,711.5 242.2,713.9 242.7,716.2 243.2,718.6 243.7,721.0 244.2,723.3 244.7,725.7 245.2,728.1 245.7,730.5 246.2,732.9 246.7,735.2 247.2,737.5 247.7,739.8 248.2,742.1 248.7,744.3 249.2,746.5 249.7,748.6 250.2,750.7 250.7,752.8 251.2,754.8 251.7,756.8 252.2,758.6 252.7,760.5 253.2,762.2 253.7,763.9 254.2,765.4 254.7,766.8 255.2,768.1 255.7,768.5 262.2,768.6 262.7,768.7 263.2,768.7 263.7,768.8 264.2,768.8 264.7,768.9 265.2,769.0 265.7,769.0 266.2,769.1 266.7,769.1 267.2,769.2 267.7,769.2 278.7,769.4 279.2,769.4 279.7,769.1 280.2,768.8 280.7,768.5 281.2,768.2 281.7,767.9 282.2,767.5 282.7,767.2 283.2,766.9 283.7,766.6 284.2,766.3 284.7,766.1 285.2,766.0 285.7,766.0 286.2,766.0 286.7,766.1 287.2,766.3 287.7,766.5 288.2,766.8 288.7,767.2 289.2,767.6 289.7,768.0 290.2,768.5 290.7,769.0 291.2,769.5 291.7,769.9 292.2,770.3 292.7,770.7 293.2,771.0 297.7,770.9 298.2,770.8 298.7,770.8 299.2,770.7 299.7,770.6 300.2,770.5 300.7,770.5 301.2,770.4 301.7,770.3 302.2,770.2 302.7,770.1 303.2,770.0 303.7,769.9 304.2,769.8 304.7,768.3 305.2,764.4 305.7,760.5 306.2,756.5 306.7,752.4 307.2,748.2 307.7,743.8 308.2,739.3 308.7,734.7 309.2,729.9 309.7,725.1 310.2,720.1 310.7,715.1 311.2,709.9 311.7,704.7 312.2,699.4 312.7,694.0 313.2,688.5 313.7,683.0 314.2,677.4 314.7,671.8 315.2,666.2 315.7,660.5 316.2,654.8 316.7,649.1 317.2,643.5 317.7,637.9 318.2,632.3 318.7,626.7 319.2,621.2 319.7,615.8 320.2,610.5 320.7,605.3 321.2,600.2 321.7,595.2 322.2,590.3 322.7,585.6 323.2,581.1 323.7,576.7 324.2,572.6 324.7,568.6 325.2,564.8 325.7,561.3 326.2,558.0 326.7,554.9 327.2,552.1 327.7,549.5 328.2,547.2 328.7,545.1 329.2,543.4 329.7,541.9 330.2,540.7 330.7,539.8 331.2,539.2 331.7,538.9 332.2,538.8 332.7,539.1 333.2,539.6 333.7,540.4 334.2,541.4 334.7,542.8 335.2,544.4 335.7,546.2 336.2,548.3 336.7,550.7 337.2,553.3 337.7,556.1 338.2,559.2 338.7,562.4 339.2,565.9 339.7,569.6 340.2,573.5 340.7,577.6 341.2,581.8 341.7,586.2 342.2,590.7 342.7,595.4 343.2,600.2 343.7,605.2 344.2,610.2 344.7,615.3 345.2,620.5 345.7,625.8 346.2,631.2 346.7,636.6 347.2,642.0 347.7,647.4 348.2,652.9 348.7,658.4 349.2,663.9 349.7,669.3 350.2,674.7 350.7,680.1 351.2,685.5 351.7,690.8 352.2,696.0 352.7,701.2 353.2,706.3 353.7,711.4 354.2,716.3 354.7,721.2 355.2,725.9 355.7,730.6 356.2,735.2 356.7,739.6 357.2,743.9 357.7,748.2 358.2,752.3 358.7,756.2 359.2,760.1 359.7,763.8 360.2,767.2 360.7,769.1 386.2,768.9 386.7,768.9 387.2,769.0 387.7,769.0 388.2,769.1 388.7,769.2 389.2,769.3 389.7,769.4 390.2,769.5 390.7,769.6 391.2,769.7 391.7,769.8 392.2,769.9 392.7,770.0 393.2,770.1 393.7,770.1 394.2,770.2 394.7,770.3 395.2,770.4 395.7,770.5 396.2,770.6 396.7,770.6 397.2,770.7 404.7,770.6 405.2,770.6 405.7,770.5 406.2,770.5 406.7,770.4 407.2,770.4 407.7,770.3 408.2,770.3 425.2,769.8 425.7,769.7 426.2,769.7 426.7,769.6 427.2,769.5 427.7,769.5 428.2,769.4 428.7,769.3 429.2,769.2 429.7,769.2 430.2,769.1 430.7,769.0 431.2,768.9 431.7,768.9 432.2,768.8 432.7,768.7 433.2,768.7 433.7,768.6 439.7,768.6 440.2,768.6 440.7,768.7 441.2,768.7 441.7,768.8 442.2,768.9 442.7,769.0 443.2,769.0 443.7,769.1 444.2,769.2 444.7,769.3 445.2,769.4 445.7,769.4 446.2,769.5 446.7,769.6 447.2,769.7 447.7,769.7 448.2,769.8 448.7,769.8 460.7,769.6 461.2,766.5 461.7,763.2 462.2,759.9 462.7,756.4 463.2,752.8 463.7,749.2 464.2,745.3 464.7,741.4 465.2,737.4 465.7,733.3 466.2,729.1 466.7,724.7 467.2,720.4 467.7,715.9 468.2,711.3 468.7,706.7 469.2,702.1 469.7,697.4 470.2,692.6 470.7,687.9 471.2,683.1 471.7,678.3 472.2,673.5 472.7,668.7 473.2,664.0 473.7,659.3 474.2,654.6 474.7,650.1 475.2,645.6 475.7,641.1 476.2,636.8 476.7,632.6 477.2,628.5 477.7,624.6 478.2,620.8 478.7,617.2 479.2,613.8 479.7,610.5 480.2,607.4 480.7,604.6 481.2,601.9 481.7,599.5 482.2,597.3 482.7,595.4 483.2,593.7 483.7,592.2 484.2,591.0 484.7,590.1 485.2,589.4 485.7,589.0 486.2,588.9 486.7,589.0 487.2,589.5 487.7,590.2 488.2,591.2 488.7,592.5 489.2,594.1 489.7,595.9 490.2,598.0 490.7,600.4 491.2,603.0 491.7,605.8 492.2,608.9 492.7,612.2 493.2,615.7 493.7,619.4 494.2,623.3 494.7,627.3 495.2,631.5 495.7,635.9 496.2,640.3 496.7,644.9 497.2,649.6 497.7,654.4 498.2,659.2 498.7,664.1 499.2,669.0 499.7,674.0 500.2,679.0 500.7,684.0 501.2,688.9 501.7,693.9 502.2,698.8 502.7,703.7 503.2,708.5 503.7,713.3 504.2,718.0 504.7,722.6 505.2,727.1 505.7,731.6 506.2,735.9 506.7,740.1 507.2,744.2 507.7,748.2 508.2,752.1 508.7,755.9 509.2,759.5 509.7,763.1 510.2,766.6 510.7,770.1 513.2,770.0 513.7,767.5 514.2,764.4 514.7,761.2 515.2,757.9 515.7,754.6 516.2,751.1 516.7,747.5 517.2,743.8 517.7,740.0 518.2,736.2 518.7,732.2 519.2,728.1 519.7,724.0 520.2,719.8 520.7,715.5 521.2,711.2 521.7,706.8 522.2,702.4 522.7,697.9 523.2,693.4 523.7,688.9 524.2,684.5 524.7,680.0 525.2,675.5 525.7,671.1 526.2,666.8 526.7,662.5 527.2,658.2 527.7,654.1 528.2,650.1 528.7,646.1 529.2,642.3 529.7,638.7 530.2,635.1 530.7,631.8 531.2,628.6 531.7,625.6 532.2,622.8 532.7,620.2 533.2,617.8 533.7,615.6 534.2,613.7 534.7,612.0 535.2,610.5 535.7,609.3 536.2,608.3 536.7,607.6 537.2,607.2 537.7,607.0 538.2,607.1 538.7,607.4 539.2,608.0 539.7,608.8 540.2,609.8 540.7,611.1 541.2,612.6 541.7,614.4 542.2,616.4 542.7,618.5 543.2,620.9 543.7,623.5 544.2,626.3 544.7,629.3 545.2,632.4 545.7,635.7 546.2,639.1 546.7,642.7 547.2,646.4 547.7,650.3 548.2,654.2 548.7,658.2 549.2,662.3 549.7,666.5 550.2,670.7 550.7,675.0 551.2,679.3 551.7,683.7 552.2,688.1 552.7,692.4 553.2,696.8 553.7,701.1 554.2,705.4 554.7,709.7 555.2,713.9 555.7,718.1 556.2,722.2 556.7,726.3 557.2,730.3 557.7,734.2 558.2,738.0 558.7,741.7 559.2,745.3 559.7,748.9 560.2,752.3 560.7,755.6 561.2,758.8 561.7,761.9 562.2,764.9 562.7,767.6 563.2,769.1 567.7,769.4 568.2,769.4 568.7,769.5 569.2,769.5 569.7,769.6 570.2,769.7 570.7,769.7 571.2,769.8 571.7,769.9 572.2,769.9 572.7,770.0 573.2,770.1 573.7,770.1 574.2,770.2 574.7,770.3 575.2,770.3 581.2,770.3 581.7,770.3 582.2,770.2 582.7,770.2 583.2,770.1 583.7,770.0 584.2,769.9 584.7,769.6 585.2,769.2 585.7,768.9 586.2,768.5 586.7,768.2 587.2,767.8 587.7,767.5 588.2,767.3 588.7,767.0 589.2,766.9 589.7,766.8 590.7,766.8 591.2,766.8 591.7,767.0 592.2,767.2 592.7,767.4 593.2,767.7 593.7,767.9 594.2,768.2 594.7,768.4 595.2,768.6 595.7,768.8 596.2,769.0 612.2,769.3 612.7,767.8 613.2,763.8 613.7,759.5 614.2,755.0 614.7,750.4 615.2,745.6 615.7,740.7 616.2,735.6 616.7,730.4 617.2,725.0 617.7,719.5 618.2,713.9 618.7,708.2 619.2,702.3 619.7,696.4 620.2,690.4 620.7,684.3 621.2,678.1 621.7,671.9 622.2,665.6 622.7,659.3 623.2,653.0 623.7,646.7 624.2,640.5 624.7,634.2 625.2,628.0 625.7,621.9 626.2,615.9 626.7,610.0 627.2,604.2 627.7,598.5 628.2,593.0 628.7,587.6 629.2,582.5 629.7,577.5 630.2,572.8 630.7,568.3 631.2,564.0 631.7,560.0 632.2,556.3 632.7,552.9 633.2,549.8 633.7,547.0 634.2,544.5 634.7,542.4 635.2,540.6 635.7,539.1 636.2,538.0 636.7,537.3 637.2,536.9 637.7,536.8 638.2,537.1 638.7,537.8 639.2,538.8 639.7,540.2 640.2,541.9 640.7,543.9 641.2,546.3 641.7,548.9 642.2,551.9 642.7,555.2 643.2,558.8 643.7,562.6 644.2,566.7 644.7,571.1 645.2,575.7 645.7,580.5 646.2,585.5 646.7,590.7 647.2,596.1 647.7,601.6 648.2,607.3 648.7,613.1 649.2,619.0 649.7,625.0 650.2,631.1 650.7,637.3 651.2,643.4 651.7,649.6 652.2,655.9 652.7,662.1 653.2,668.3 653.7,674.5 654.2,680.6 654.7,686.7 655.2,692.7 655.7,698.6 656.2,704.4 656.7,710.1 657.2,715.8 657.7,721.3 658.2,726.7 658.7,731.9 659.2,737.1 659.7,742.0 660.2,746.9 660.7,751.6 661.2,756.1 661.7,760.4 662.2,764.5 662.7,768.1 663.2,768.6 670.2,768.6 670.7,768.6 671.2,768.7 671.7,768.7 672.2,768.8 672.7,768.9 673.2,769.0 673.7,769.1 674.2,769.2 674.7,769.2 675.2,769.3 675.7,769.4 676.2,769.5 676.7,769.6 677.2,769.7 677.7,769.8 678.2,769.9 678.7,770.0 679.2,770.0 679.7,770.1 680.2,770.2 680.7,770.2 681.7,770.3 682.2,770.2 682.7,770.0 683.2,769.7 683.7,769.4 684.2,769.1 684.7,768.7 685.2,768.4 685.7,768.1 686.2,767.8 686.7,767.6 687.2,767.4 687.7,767.3 688.7,767.3 689.2,767.4 689.7,767.6 690.2,767.8 690.7,768.0 691.2,768.3 691.7,768.6 692.2,768.8 692.7,769.1 693.2,769.3 693.7,769.5 694.2,769.6 710.2,769.6 710.7,769.5 711.2,769.5 711.7,769.4 712.2,769.4 712.7,769.3 713.2,769.2 713.7,769.2 714.2,769.1 714.7,769.1 715.2,769.0 715.7,769.0 722.2,768.9 722.7,768.9 723.2,769.0 723.7,769.1 724.2,769.1 724.7,769.2 725.2,769.3 725.7,769.4 726.2,769.5 726.7,769.6 727.2,769.6 727.7,769.7 728.2,769.8 728.7,769.9 729.2,770.0 729.7,770.1 730.2,770.2 730.7,770.2 731.2,770.3 731.7,770.4 732.2,770.4 759.2,770.0 759.7,769.9 760.2,769.8 760.7,769.8 761.2,769.7 761.7,769.6 762.2,769.6 762.7,769.5 763.2,769.4 763.7,769.3 764.2,769.2 764.7,769.1 765.2,769.0 765.7,768.9 766.2,768.8 766.7,768.8 767.2,768.7 767.7,768.6 768.2,768.5 768.7,768.5 769.2,768.4 769.7,768.3 775.7,768.4 776.2,768.4 776.7,768.5 777.2,768.5 777.7,768.6 778.2,768.7 778.7,768.7 779.2,768.8 779.7,768.9 780.2,769.0 780.7,769.1 781.2,769.1 781.7,769.2 782.2,769.3 782.7,769.3 783.2,769.4 783.7,769.5 784.2,769.5 801.2,769.9 801.7,769.9 802.2,770.0 802.7,770.0 803.2,770.1 803.7,770.1 804.2,770.2 804.7,770.3 810.7,770.5 811.2,767.8 811.7,765.1 812.2,762.5 812.7,759.9 813.2,757.2 813.7,754.5 814.2,751.6 814.7,748.7 815.2,745.8 815.7,742.7 816.2,739.6 816.7,736.4 817.2,733.2 817.7,729.9 818.2,726.5 818.7,723.1 819.2,719.7 819.7,716.2 820.2,712.7 820.7,709.1 821.2,705.6 821.7,702.0 822.2,698.5 822.7,694.9 823.2,691.4 823.7,687.8 824.2,684.4 824.7,680.9 825.2,677.5 825.7,674.2 826.2,670.9 826.7,667.7 827.2,664.6 827.7,661.6 828.2,658.7 828.7,655.9 829.2,653.2 829.7,650.6 830.2,648.2 830.7,645.9 831.2,643.8 831.7,641.8 832.2,640.0 832.7,638.3 833.2,636.8 833.7,635.5 834.2,634.4 834.7,633.5 835.2,632.7 835.7,632.2 836.2,631.8 836.7,631.6 837.2,631.6 837.7,631.9 838.2,632.3 838.7,633.0 839.2,633.8 839.7,634.9 840.2,636.2 840.7,637.7 841.2,639.3 841.7,641.2 842.2,643.2 842.7,645.4 843.2,647.7 843.7,650.3 844.2,652.9 844.7,655.7 845.2,658.7 845.7,661.7 846.2,664.9 846.7,668.2 847.2,671.5 847.7,675.0 848.2,678.5 848.7,682.1 849.2,685.7 849.7,689.4 850.2,693.0 850.7,696.8 851.2,700.5 851.7,704.2 852.2,708.0 852.7,711.7 853.2,715.4 853.7,719.0 854.2,722.6 854.7,726.2 855.2,729.7 855.7,733.2 856.2,736.6 856.7,739.9 857.2,743.2 857.7,746.3 858.2,749.4 858.7,752.5 859.2,755.4 859.7,758.3 860.2,761.1 860.7,763.9 861.2,766.6 861.7,769.5 862.2,770.7 863.7,770.5 864.2,770.5 864.7,770.4 865.2,770.4 865.7,770.3 866.2,770.2 866.7,770.1 867.2,770.0 867.7,769.9 868.2,769.8 868.7,769.7 869.2,769.6 869.7,769.5 870.2,769.4 870.7,769.3 871.2,769.2 871.7,769.2 872.2,769.1 872.7,769.0 873.2,768.9 873.7,768.9 874.2,768.8 874.7,768.7 901.2,769.0 901.7,769.0 902.2,769.1 902.7,769.2 903.2,769.2 903.7,769.3 904.2,769.4 904.7,769.5 905.2,769.6 905.7,769.7 906.2,769.8 906.7,769.8 907.2,769.9 907.7,770.0 908.2,770.1 908.7,770.2 909.2,770.3 909.7,770.4 910.2,770.4 910.7,770.5 911.2,770.6 911.7,770.6 912.7,770.7 913.2,770.2 913.7,768.9 914.2,767.6 914.7,766.3 915.2,764.9 915.7,763.6 916.2,762.3 916.7,760.9 917.2,759.5 917.7,758.1 918.2,756.6 918.7,755.1 919.2,753.6 919.7,752.1 920.2,750.5 920.7,749.0 921.2,747.4 921.7,745.8 922.2,744.1 922.7,742.5 923.2,740.9 923.7,739.3 924.2,737.6 924.7,736.0 925.2,734.4 925.7,732.8 926.2,731.3 926.7,729.8 927.2,728.3 927.7,726.8 928.2,725.4 928.7,724.0 929.2,722.7 929.7,721.4 930.2,720.2 930.7,719.1 931.2,718.0 931.7,717.0 932.2,716.1 932.7,715.3 933.2,714.5 933.7,713.9 934.2,713.3 934.7,712.8 935.2,712.4 935.7,712.1 936.2,711.9 936.7,711.8 937.2,711.8 937.7,711.9 938.2,712.1 938.7,712.3 939.2,712.7 939.7,713.1 940.2,713.7 940.7,714.3 941.2,715.0 941.7,715.8 942.2,716.7 942.7,717.6 943.2,718.6 943.7,719.7 944.2,720.8 944.7,722.0 945.2,723.3 945.7,724.6 946.2,726.0 946.7,727.4 947.2,728.8 947.7,730.3 948.2,731.8 948.7,733.4 949.2,734.9 949.7,736.5 950.2,738.1 950.7,739.7 951.2,741.2 951.7,742.8 952.2,744.4 952.7,746.0 953.2,747.6 953.7,749.1 954.2,750.7 954.7,752.2 955.2,753.7 955.7,755.1 956.2,756.6 956.7,758.0 957.2,759.4 957.7,760.7 958.2,762.0 958.7,763.3 959.2,764.6 959.7,765.8 960.2,767.1 960.7,768.3 961.2,769.6 961.7,770.3 962.2,770.4 962.7,770.5 963.2,770.5 969.7,770.5 970.2,770.4 970.7,770.4 971.2,770.3 971.7,770.2 972.2,770.2 972.7,770.1 973.2,770.0 973.7,770.0 974.2,769.9 974.7,769.8 975.2,769.8 975.7,769.7 976.2,769.7 976.7,769.6 992.7,769.2 993.2,769.2 993.7,769.1 994.2,769.0 994.7,769.0 995.2,768.9 995.7,768.8 996.2,768.8 996.7,768.7 997.2,768.7 997.7,768.6 998.2,768.5 998.7,768.5 999.2,768.4 1005.7,768.4 1006.2,768.5 1006.7,768.5 1007.2,768.6 1007.7,768.7 1008.2,768.8 1008.7,768.9 1009.2,769.0 1009.7,769.0 1010.2,769.1 1010.7,769.2 1011.2,769.3 1011.7,769.4 1012.2,769.5 1012.7,769.6 1013.2,769.7 1013.7,769.8 1014.2,769.9 1014.7,770.0 1015.2,770.0 1015.7,770.1 1016.2,770.2 1016.7,770.2 1043.7,770.2 1044.2,770.1 1044.7,770.1 1045.2,770.0 1045.7,769.9 1046.2,769.9 1046.7,769.8 1047.2,769.7 1047.7,769.6 1048.2,769.5 1048.7,769.4 1049.2,769.4 1049.7,769.3 1050.2,769.2 1050.7,769.1 1051.2,769.1 1051.7,769.0 1052.2,768.9 1052.7,768.9 1059.2,768.9 1059.7,769.0 1060.2,769.0 1060.7,769.1 1061.2,769.2 1061.7,769.2 1062.2,769.3 1062.7,769.4 1063.2,769.4 1063.7,769.5 1064.2,769.6 1064.7,769.7 1065.2,769.7 1065.7,769.8 1066.2,769.8 1066.7,769.9 1094.7,770.0 1095.2,770.0 1095.7,769.9 1096.2,769.9 1096.7,769.8 1097.2,769.7 1097.7,769.6 1098.2,769.6 1098.7,769.5 1099.2,769.4 1099.7,769.3 1100.2,769.2 1100.7,769.1 1101.2,769.0 1101.7,768.9 1102.2,768.8 1102.7,768.8 1103.2,768.7 1103.7,768.6 1104.2,768.5 1104.7,768.5 1105.2,768.4 1111.7,768.5 1112.2,768.5 1112.7,768.6 1113.2,768.6 1113.7,768.7 1114.2,768.8 1114.7,768.8 1115.2,768.9 1115.7,769.0 1116.2,769.0 1116.7,769.1 1117.2,769.2 1117.7,769.2 1118.2,769.3 1133.7,769.8 1134.2,769.8 1134.7,769.9 1135.2,769.9 1135.7,770.0 1136.2,770.0 1136.7,770.1 1137.2,770.2 1137.7,770.3 1138.2,770.3 1138.7,770.4 1139.2,770.5 1139.7,770.5 1140.2,770.6 1140.7,770.7 1141.2,770.7 1147.7,770.8 1148.2,770.7 1148.7,770.7 1149.2,770.6 1149.7,770.5 1150.2,770.4 1150.7,770.4 1151.2,770.3 1151.7,770.2 1152.2,770.1 1152.7,770.0 1153.2,769.9 1153.7,769.8 1154.2,769.7 1154.7,769.6 1155.2,769.6 1155.7,769.5 1156.2,769.4 1156.7,769.4 1157.2,769.3 1157.7,769.2 1185.7,769.3 1186.2,769.3 1186.7,769.4 1187.2,769.5 1187.7,769.5 1188.2,769.6 1188.7,769.7 1189.2,769.7 1189.7,769.8 1190.2,769.9 1190.7,770.0 1191.2,770.0 1191.7,770.1 1192.2,770.2 1192.7,770.2 1193.2,770.3 1193.7,770.3 1199.7,770.4 1200.2,770.3 1200.7,770.3 1201.2,770.2 1201.7,770.1 1202.2,770.1 1202.7,770.0 1203.2,769.9 1203.7,769.8 1204.2,769.7 1204.7,769.7 1205.2,768.7 1205.7,767.7 1206.2,766.7 1206.7,765.7 1207.2,764.6 1207.7,763.5 1208.2,762.4 1208.7,761.3 1209.2,760.1 1209.7,758.9 1210.2,757.6 1210.7,756.3 1211.2,755.0 1211.7,753.7 1212.2,752.4 1212.7,751.0 1213.2,749.6 1213.7,748.3 1214.2,746.9 1214.7,745.5 1215.2,744.1 1215.7,742.8 1216.2,741.4 1216.7,740.1 1217.2,738.8 1217.7,737.5 1218.2,736.3 1218.7,735.1 1219.2,733.9 1219.7,732.8 1220.2,731.8 1220.7,730.8 1221.2,729.9 1221.7,729.0 1222.2,728.2 1222.7,727.5 1223.2,726.9 1223.7,726.3 1224.2,725.8 1224.7,725.4 1225.2,725.1 1225.7,724.9 1226.2,724.7 1227.2,724.7 1227.7,724.8 1228.2,725.0 1228.7,725.2 1229.2,725.5 1229.7,725.8 1230.2,726.2 1230.7,726.6 1231.2,727.1 1231.7,727.7 1232.2,728.3 1232.7,729.0 1233.2,729.7 1233.7,730.4 1234.2,731.2 1234.7,732.1 1235.2,733.0 1235.7,733.9 1236.2,734.8 1236.7,735.8 1237.2,736.8 1237.7,737.9 1238.2,738.9 1238.7,740.0 1239.2,741.1 1239.7,742.2 1240.2,743.3 1240.7,744.5 1241.2,745.6 1241.7,746.8 1242.2,747.9 1242.7,749.0 1243.2,750.2 1243.7,751.3 1244.2,752.5 1244.7,753.6 1245.2,754.7 1245.7,755.8 1246.2,756.9 1246.7,758.0 1247.2,759.0 1247.7,760.1 1248.2,761.1 1248.7,762.1 1249.2,763.1 1249.7,764.1 1250.2,765.1 1250.7,766.1 1251.2,767.0 1251.7,768.0 1252.2,768.9 1252.7,769.9" stroke="#151515"/>
<path d="M181.7,769.7 182.2,769.8 182.7,769.9 183.2,770.0 183.7,770.1 184.2,770.1 184.7,770.2 185.2,770.3 185.7,770.3 186.2,770.4 213.2,770.0 213.7,770.0 214.2,769.9 214.7,769.8 215.2,769.8 215.7,769.7 216.2,769.6 216.7,769.5 217.2,769.4 217.7,769.3 218.2,769.3 218.7,769.2 219.2,769.1 219.7,769.0 220.2,768.9 220.7,768.8 221.2,768.7 221.7,768.6 222.2,768.6 222.7,768.5 223.2,768.4 223.7,768.4 229.7,768.4 230.2,768.4 230.7,768.5 231.2,768.5 231.7,768.6 232.2,768.7 232.7,768.7 233.2,768.8 233.7,768.9 234.2,769.0 234.7,769.0 235.2,769.1 235.7,769.2 236.2,769.2 236.7,769.3 237.2,769.4 237.7,769.4 254.7,769.8 255.2,769.9 255.7,769.9 256.2,770.0 256.7,770.0 257.2,769.2 257.7,767.9 258.2,766.5 258.7,765.0 259.2,763.5 259.7,762.0 260.2,760.4 260.7,758.8 261.2,757.2 261.7,755.6 262.2,753.9 262.7,752.1 263.2,750.4 263.7,748.6 264.2,746.7 264.7,744.9 265.2,743.0 265.7,741.1 266.2,739.2 266.7,737.3 267.2,735.3 267.7,733.4 268.2,731.4 268.7,729.4 269.2,727.5 269.7,725.5 270.2,723.6 270.7,721.7 271.2,719.8 271.7,717.9 272.2,716.0 272.7,714.2 273.2,712.5 273.7,710.7 274.2,709.0 274.7,707.4 275.2,705.8 275.7,704.3 276.2,702.9 276.7,701.5 277.2,700.2 277.7,699.0 278.2,697.8 278.7,696.8 279.2,695.8 279.7,694.9 280.2,694.1 280.7,693.4 281.2,692.8 281.7,692.3 282.2,691.9 282.7,691.6 283.2,691.4 283.7,691.3 284.2,691.3 284.7,691.5 285.2,691.7 285.7,692.1 286.2,692.6 286.7,693.3 287.2,694.0 287.7,694.9 288.2,695.9 288.7,696.9 289.2,698.1 289.7,699.4 290.2,700.8 290.7,702.3 291.2,703.9 291.7,705.5 292.2,707.2 292.7,709.0 293.2,710.9 293.7,712.8 294.2,714.8 294.7,716.8 295.2,718.8 295.7,720.9 296.2,723.0 296.7,725.2 297.2,727.3 297.7,729.5 298.2,731.6 298.7,733.8 299.2,735.9 299.7,738.1 300.2,740.2 300.7,742.3 301.2,744.4 301.7,746.4 302.2,748.4 302.7,750.4 303.2,752.4 303.7,754.3 304.2,756.1 304.7,757.9 305.2,759.7 305.7,761.4 306.2,763.1 306.7,764.7 307.2,766.3 307.7,767.9 308.2,769.6 308.7,770.3 309.2,770.3 309.7,770.4 310.2,770.4 310.7,770.5 311.2,770.5 317.7,770.6 318.2,770.5 318.7,770.5 319.2,770.4 319.7,770.3 320.2,770.2 320.7,770.2 321.2,770.1 321.7,770.0 322.2,769.9 322.7,769.8 323.2,769.7 323.7,769.6 324.2,769.5 324.7,769.4 325.2,769.3 325.7,769.2 326.2,769.1 326.7,769.0 327.2,769.0 327.7,768.9 328.2,768.8 328.7,768.8 355.2,768.9 355.7,769.0 356.2,769.1 356.7,769.1 357.2,769.2 357.7,769.3 358.2,769.4 358.7,769.4 359.2,769.5 359.7,769.6 360.2,769.7 360.7,769.8 361.2,769.9 361.7,770.0 362.2,770.1 362.7,770.2 363.2,770.3 363.7,770.3 364.2,770.4 364.7,770.5 365.2,770.5 365.7,770.6 371.7,770.6 372.2,770.5 372.7,770.4 373.2,770.4 373.7,770.3 374.2,770.3 374.7,770.2 375.2,770.1 375.7,770.1 376.2,770.0 376.7,769.9 377.2,769.9 377.7,769.8 378.2,769.7 378.7,769.7 407.7,769.1 408.2,769.2 408.7,769.2 409.2,769.3 409.7,769.4 410.2,768.9 410.7,766.2 411.2,763.3 411.7,760.3 412.2,757.2 412.7,753.9 413.2,750.6 413.7,747.1 414.2,743.6 414.7,740.0 415.2,736.3 415.7,732.5 416.2,728.6 416.7,724.6 417.2,720.6 417.7,716.5 418.2,712.4 418.7,708.2 419.2,704.0 419.7,699.7 420.2,695.4 420.7,691.1 421.2,686.8 421.7,682.5 422.2,678.2 422.7,674.0 423.2,669.7 423.7,665.6 424.2,661.4 424.7,657.4 425.2,653.4 425.7,649.5 426.2,645.7 426.7,642.0 427.2,638.5 427.7,635.0 428.2,631.8 428.7,628.6 429.2,625.6 429.7,622.8 430.2,620.2 430.7,617.8 431.2,615.6 431.7,613.5 432.2,611.7 432.7,610.1 433.2,608.7 433.7,607.6 434.2,606.7 434.7,606.0 435.2,605.5 435.7,605.3 436.2,605.3 436.7,605.6 437.2,606.2 437.7,607.0 438.2,608.0 438.7,609.3 439.2,610.8 439.7,612.6 440.2,614.6 440.7,616.9 441.2,619.3 441.7,622.0 442.2,624.8 442.7,627.9 443.2,631.1 443.7,634.5 444.2,638.0 444.7,641.7 445.2,645.5 445.7,649.5 446.2,653.5 446.7,657.7 447.2,661.9 447.7,666.2 448.2,670.6 448.7,675.0 449.2,679.4 449.7,683.9 450.2,688.4 450.7,692.8 451.2,697.3 451.7,701.7 452.2,706.2 452.7,710.5 453.2,714.9 453.7,719.1 454.2,723.3 454.7,727.5 455.2,731.5 455.7,735.5 456.2,739.4 456.7,743.2 457.2,746.8 457.7,750.4 458.2,753.9 458.7,757.2 459.2,760.4 459.7,763.4 460.2,766.1 460.7,768.5 461.2,768.6 461.7,768.7 462.2,768.7 462.7,768.8 463.2,768.9 463.7,769.0 464.2,769.1 464.7,769.2 465.2,769.3 465.7,769.4 466.2,769.5 466.7,769.6 467.2,769.7 467.7,769.8 468.2,769.8 468.7,769.9 469.2,770.0 469.7,770.0 470.2,770.1 497.7,770.2 498.2,770.2 498.7,770.1 499.2,770.0 499.7,770.0 500.2,769.9 500.7,769.8 501.2,769.7 501.7,769.6 502.2,769.6 502.7,769.5 503.2,769.4 503.7,769.3 504.2,769.2 504.7,769.1 505.2,769.1 505.7,769.0 506.2,768.9 506.7,768.9 513.2,768.9 513.7,769.0 514.2,769.0 514.7,769.1 515.2,769.2 515.7,769.2 516.2,769.3 516.7,769.4 517.2,769.4 517.7,769.5 518.2,769.6 518.7,769.7 519.2,769.7 519.7,769.8 520.2,769.8 520.7,769.9 548.7,770.1 549.2,770.0 549.7,770.0 550.2,769.9 550.7,769.8 551.2,769.8 551.7,769.7 552.2,769.6 552.7,769.5 553.2,769.4 553.7,769.3 554.2,769.2 554.7,769.1 555.2,769.0 555.7,768.9 556.2,768.9 556.7,768.8 557.2,768.7 557.7,768.6 558.2,768.6 558.7,768.5 559.2,768.4 564.2,768.4 564.7,767.9 565.2,766.6 565.7,765.1 566.2,763.4 566.7,761.6 567.2,759.7 567.7,757.7 568.2,755.6 568.7,753.4 569.2,751.2 569.7,749.0 570.2,746.6 570.7,744.3 571.2,741.9 571.7,739.4 572.2,736.9 572.7,734.4 573.2,731.9 573.7,729.3 574.2,726.7 574.7,724.1 575.2,721.6 575.7,719.0 576.2,716.4 576.7,713.9 577.2,711.4 577.7,708.9 578.2,706.5 578.7,704.1 579.2,701.7 579.7,699.5 580.2,697.3 580.7,695.2 581.2,693.2 581.7,691.2 582.2,689.4 582.7,687.7 583.2,686.1 583.7,684.6 584.2,683.2 584.7,682.0 585.2,680.9 585.7,679.9 586.2,679.1 586.7,678.4 587.2,677.9 587.7,677.5 588.2,677.3 588.7,677.2 589.2,677.3 589.7,677.5 590.2,678.0 590.7,678.5 591.2,679.3 591.7,680.2 592.2,681.3 592.7,682.5 593.2,683.8 593.7,685.3 594.2,687.0 594.7,688.7 595.2,690.6 595.7,692.6 596.2,694.7 596.7,696.9 597.2,699.2 597.7,701.6 598.2,704.1 598.7,706.6 599.2,709.1 599.7,711.7 600.2,714.4 600.7,717.1 601.2,719.8 601.7,722.5 602.2,725.2 602.7,727.9 603.2,730.6 603.7,733.3 604.2,736.0 604.7,738.6 605.2,741.2 605.7,743.7 606.2,746.2 606.7,748.7 607.2,751.1 607.7,753.4 608.2,755.7 608.7,757.9 609.2,760.0 609.7,762.1 610.2,764.0 610.7,765.9 611.2,767.7 611.7,769.3 639.7,769.3 640.2,769.3 640.7,769.4 641.2,769.5 641.7,769.5 642.2,769.6 642.7,769.7 643.2,769.7 643.7,769.8 644.2,769.9 644.7,770.0 645.2,770.0 645.7,770.1 646.2,770.2 646.7,770.2 647.2,770.3 647.7,770.4 654.2,770.3 654.7,770.3 655.2,770.2 655.7,770.2 656.2,770.1 656.7,770.0 657.2,769.9 657.7,769.9 658.2,769.8 658.7,769.7 659.2,769.6 659.7,769.5 660.2,769.4 660.7,769.4 661.2,769.3 661.7,769.2 662.2,769.2 662.7,769.1 690.2,768.8 690.7,768.9 691.2,769.0 691.7,769.0 692.2,769.1 692.7,769.2 693.2,769.3 693.7,769.4 694.2,769.5 694.7,769.6 695.2,769.7 695.7,769.8 696.2,769.9 696.7,770.0 697.2,770.1 697.7,770.2 698.2,770.3 698.7,770.3 699.2,770.4 699.7,770.5 700.2,770.6 700.7,770.6 701.2,770.7 708.2,770.6 708.7,770.6 709.2,770.5 709.7,770.5 710.2,770.4 710.7,770.4 711.2,770.3 711.7,770.3 712.2,770.2 712.7,770.2 729.7,769.7 730.2,769.7 730.7,769.6 731.2,769.6 731.7,769.5 732.2,769.4 732.7,769.4 733.2,769.3 733.7,769.2 734.2,769.1 734.7,769.1 735.2,769.0 735.7,768.9 736.2,768.9 736.7,768.8 737.2,768.8 743.7,768.7 744.2,768.8 744.7,768.8 745.2,768.9 745.7,769.0 746.2,769.1 746.7,769.1 747.2,769.2 747.7,769.3 748.2,769.4 748.7,769.5 749.2,769.5 749.7,769.6 750.2,769.7 750.7,769.8 751.2,769.8 751.7,769.9 752.2,770.0 752.7,770.0 781.2,769.6 781.7,769.6 782.2,769.5 782.7,769.4 783.2,769.4 783.7,769.3 784.2,769.2 784.7,769.2 785.2,769.1 785.7,769.0 786.2,768.9 786.7,768.9 787.2,768.8 787.7,768.7 788.2,768.7 788.7,768.6 789.2,768.5 795.2,768.5 795.7,768.6 796.2,768.6 796.7,768.7 797.2,768.8 797.7,768.8 798.2,768.9 798.7,769.0 799.2,769.1 799.7,769.2 800.2,769.3 800.7,769.4 801.2,769.4 801.7,769.5 802.2,769.6 802.7,769.7 803.2,769.8 803.7,769.8 804.2,769.9 804.7,770.0 805.2,770.0 832.2,770.6 832.7,770.5 833.2,770.4 833.7,770.4 834.2,770.3 834.7,770.2 835.2,770.1 835.7,770.0 836.2,769.9 836.7,769.9 837.2,769.8 837.7,769.7 838.2,769.6 838.7,769.5 839.2,769.4 839.7,769.3 840.2,769.2 840.7,769.1 841.2,769.0 841.7,768.9 842.2,768.9 842.7,768.8 843.2,768.8 850.7,768.9 851.2,769.0 851.7,769.0 852.2,769.1 852.7,769.1 853.2,769.2 872.2,769.5 872.7,769.5 873.2,769.6 873.7,769.6 874.2,769.7 874.7,769.8 875.2,769.8 875.7,769.9 876.2,770.0 876.7,770.0 877.2,770.1 877.7,770.1 878.2,770.2 885.2,770.2 885.7,770.1 886.2,770.1 886.7,770.0 887.2,769.9 887.7,769.9 888.2,769.8 888.7,769.7 889.2,769.6 889.7,769.5 890.2,769.4 890.7,769.4 891.2,769.3 891.7,769.2 892.2,769.1 892.7,769.0 893.2,769.0 893.7,768.9 894.2,768.9 922.2,769.6 922.7,769.6 923.2,769.7 923.7,769.7 924.2,769.8 924.7,769.9 925.2,770.0 925.7,770.0 926.2,770.1 926.7,770.2 927.2,770.3 927.7,770.4 928.2,770.5 928.7,770.5 929.2,770.6 929.7,770.7 930.2,770.8 930.7,770.8 931.2,770.9 937.2,770.9 937.7,770.8 938.2,770.8 938.7,770.7 939.2,770.6 939.7,770.6 940.2,770.5 940.7,770.4 941.2,770.3 941.7,770.2 942.2,770.2 942.7,770.1 943.2,770.0 943.7,769.9 944.2,769.8 944.7,769.7 945.2,769.7 945.7,769.6 946.2,769.5 946.7,769.5 947.2,769.4 974.2,768.7 974.7,768.8 975.2,768.8 975.7,768.9 976.2,768.9 976.7,769.0 977.2,769.1 977.7,769.2 978.2,769.3 978.7,769.4 979.2,769.4 979.7,769.5 980.2,769.6 980.7,769.7 981.2,769.8 981.7,769.9 982.2,770.0 982.7,770.0 983.2,770.1 983.7,770.2 984.2,770.2 991.2,770.2 991.7,770.1 992.2,770.0 992.7,770.0 993.2,769.9 993.7,769.9 994.2,769.8 994.7,769.8 995.2,769.7 995.7,769.7 1015.2,769.3 1015.7,769.3 1016.2,769.2 1016.7,769.2 1017.2,769.1 1017.7,769.1 1018.2,769.0 1018.7,769.0 1026.2,768.9 1026.7,769.0 1027.2,769.0 1027.7,769.1 1028.2,769.2 1028.7,769.3 1029.2,769.3 1029.7,769.4 1030.2,769.5 1030.7,769.6 1031.2,769.7 1031.7,769.8 1032.2,769.9 1032.7,770.0 1033.2,770.1 1033.7,770.2 1034.2,770.3 1034.7,770.3 1035.2,770.4 1035.7,770.5 1036.2,770.5 1036.7,770.6 1063.2,770.0 1063.7,769.9 1064.2,769.9 1064.7,769.8 1065.2,769.7 1065.7,769.6 1066.2,769.6 1066.7,769.5 1067.2,769.4 1067.7,769.3 1068.2,769.2 1068.7,769.1 1069.2,769.0 1069.7,769.0 1070.2,768.9 1070.7,768.8 1071.2,768.7 1071.7,768.6 1072.2,768.6 1072.7,768.5 1073.2,768.4 1073.7,768.4 1079.7,768.4 1080.2,768.5 1080.7,768.6 1081.2,768.6 1081.7,768.7 1082.2,768.8 1082.7,768.8 1083.2,768.9 1083.7,769.0 1084.2,769.1 1084.7,769.2 1085.2,769.2 1085.7,769.3 1086.2,769.4 1086.7,769.4 1087.2,769.5 1087.7,769.5 1088.2,769.6 1116.2,770.2 1116.7,770.1 1117.2,770.1 1117.7,770.0 1118.2,769.9 1118.7,769.9 1119.2,769.8 1119.7,769.7 1120.2,769.6 1120.7,769.5 1121.2,769.4 1121.7,769.4 1122.2,769.3 1122.7,769.2 1123.2,769.1 1123.7,769.1 1124.2,769.0 1124.7,768.9 1125.2,768.9 1131.7,768.9 1132.2,768.9 1132.7,769.0 1133.2,769.0 1133.7,769.1 1134.2,769.2 1134.7,769.2 1135.2,769.3 1135.7,769.4 1136.2,769.4 1136.7,769.5 1137.2,769.6 1137.7,769.6 1138.2,769.7 1138.7,769.8 1156.7,770.1 1157.2,770.2 1157.7,770.2 1158.2,770.3 1158.7,770.4 1159.2,770.4 1159.7,770.5 1160.2,770.5 1167.2,770.6 1167.7,770.6 1168.2,770.5 1168.7,770.5 1169.2,770.4 1169.7,770.3 1170.2,770.2 1170.7,770.1 1171.2,770.0 1171.7,769.9 1172.2,769.8 1172.7,769.7 1173.2,769.6 1173.7,769.5 1174.2,769.4 1174.7,769.3 1175.2,769.2 1175.7,769.2 1176.2,769.1 1176.7,769.0 1177.2,768.9 1177.7,768.8 1178.2,768.8 1178.7,768.7 1205.7,769.1 1206.2,769.1 1206.7,769.2 1207.2,769.3 1207.7,769.3 1208.2,769.4 1208.7,769.5 1209.2,769.6 1209.7,769.7 1210.2,769.7 1210.7,769.8 1211.2,769.9 1211.7,770.0 1212.2,770.1 1212.7,770.2 1213.2,770.2 1213.7,770.3 1214.2,770.4 1214.7,770.4 1215.2,770.5 1221.2,770.5 1221.7,770.4 1222.2,770.4 1222.7,770.3 1223.2,770.2 1223.7,770.2 1224.2,770.1 1224.7,770.0 1225.2,770.0 1225.7,769.9 1226.2,769.8 1226.7,769.7 1227.2,769.7 1227.7,769.6 1228.2,769.5 1228.7,769.5 1229.2,769.4 1252.7,769.1" stroke="#e3221f"/>
</g>
<ellipse cx="740" cy="703.7" rx="46.2" ry="105.5" fill="none" stroke="#e82a25" stroke-width="2.4"/>
</svg>
</body></html>
